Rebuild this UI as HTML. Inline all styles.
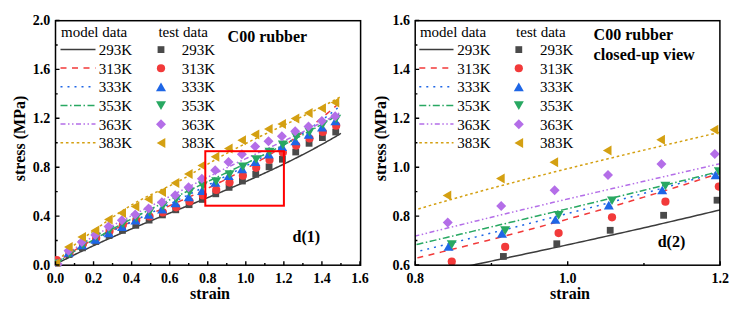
<!DOCTYPE html><html><head><meta charset="utf-8"><style>html,body{margin:0;padding:0;background:#fff;}svg{display:block;}text{font-family:"Liberation Serif",serif;}</style></head><body>
<svg width="742" height="315" viewBox="0 0 742 315">
<rect width="742" height="315" fill="#fff"/>
<defs><clipPath id="cl"><rect x="55.5" y="20.5" width="304.5" height="244.5"/></clipPath><clipPath id="c0"><rect x="55" y="240" width="30" height="26.5"/></clipPath><clipPath id="cr"><rect x="415.2" y="20.5" width="304.8" height="244.5"/></clipPath></defs>
<g clip-path="url(#cl)">
<polyline points="55.50,265.00 56.45,263.85 57.40,263.36 58.35,262.86 59.31,262.37 60.26,261.88 61.21,261.39 62.16,260.90 63.11,260.42 64.06,259.93 65.02,259.45 65.97,258.97 66.92,258.49 67.87,258.01 68.82,257.54 69.77,257.06 70.72,256.59 71.68,256.11 72.63,255.64 73.58,255.18 74.53,254.71 75.48,254.24 76.43,253.78 77.38,253.31 78.34,252.85 79.29,252.39 80.24,251.93 81.19,251.48 82.14,251.02 83.09,250.56 84.05,250.11 85.00,249.66 85.95,249.21 86.90,248.76 87.85,248.31 88.80,247.86 89.75,247.42 90.71,246.97 91.66,246.53 92.61,246.09 93.56,245.64 94.51,245.21 95.46,244.77 96.41,244.33 97.37,243.89 98.32,243.46 99.27,243.02 100.22,242.59 101.17,242.16 102.12,241.73 103.08,241.30 104.03,240.87 104.98,240.44 105.93,240.01 106.88,239.59 107.83,239.16 108.78,238.74 109.74,238.32 110.69,237.90 111.64,237.48 112.59,237.06 113.54,236.64 114.49,236.22 115.44,235.80 116.40,235.39 117.35,234.97 118.30,234.56 119.25,234.14 120.20,233.73 121.15,233.32 122.11,232.91 123.06,232.50 124.01,232.09 124.96,231.68 125.91,231.27 126.86,230.86 127.81,230.46 128.77,230.05 129.72,229.65 130.67,229.24 131.62,228.84 132.57,228.44 133.52,228.03 134.47,227.63 135.43,227.23 136.38,226.83 137.33,226.43 138.28,226.03 139.23,225.63 140.18,225.24 141.13,224.84 142.09,224.44 143.04,224.04 143.99,223.65 144.94,223.25 145.89,222.86 146.84,222.46 147.80,222.07 148.75,221.68 149.70,221.28 150.65,220.89 151.60,220.50 152.55,220.11 153.50,219.72 154.46,219.32 155.41,218.93 156.36,218.54 157.31,218.15 158.26,217.76 159.21,217.37 160.17,216.98 161.12,216.60 162.07,216.21 163.02,215.82 163.97,215.43 164.92,215.04 165.87,214.66 166.83,214.27 167.78,213.88 168.73,213.49 169.68,213.11 170.63,212.72 171.58,212.33 172.53,211.95 173.49,211.56 174.44,211.17 175.39,210.79 176.34,210.40 177.29,210.02 178.24,209.63 179.19,209.24 180.15,208.86 181.10,208.47 182.05,208.09 183.00,207.70 183.95,207.31 184.90,206.93 185.86,206.54 186.81,206.16 187.76,205.77 188.71,205.38 189.66,205.00 190.61,204.61 191.56,204.22 192.52,203.84 193.47,203.45 194.42,203.06 195.37,202.68 196.32,202.29 197.27,201.90 198.23,201.51 199.18,201.13 200.13,200.74 201.08,200.35 202.03,199.96 202.98,199.57 203.93,199.18 204.89,198.79 205.84,198.40 206.79,198.01 207.74,197.62 208.69,197.23 209.64,196.84 210.59,196.44 211.55,196.05 212.50,195.66 213.45,195.27 214.40,194.87 215.35,194.48 216.30,194.08 217.25,193.69 218.21,193.29 219.16,192.90 220.11,192.50 221.06,192.10 222.01,191.71 222.96,191.31 223.92,190.91 224.87,190.51 225.82,190.11 226.77,189.71 227.72,189.31 228.67,188.91 229.62,188.50 230.58,188.10 231.53,187.70 232.48,187.29 233.43,186.89 234.38,186.48 235.33,186.08 236.29,185.67 237.24,185.26 238.19,184.85 239.14,184.44 240.09,184.03 241.04,183.62 241.99,183.21 242.95,182.80 243.90,182.38 244.85,181.97 245.80,181.55 246.75,181.14 247.70,180.72 248.65,180.30 249.61,179.88 250.56,179.46 251.51,179.04 252.46,178.62 253.41,178.20 254.36,177.77 255.32,177.35 256.27,176.92 257.22,176.49 258.17,176.07 259.12,175.64 260.07,175.21 261.02,174.78 261.98,174.34 262.93,173.91 263.88,173.48 264.83,173.04 265.78,172.60 266.73,172.17 267.68,171.73 268.64,171.29 269.59,170.85 270.54,170.40 271.49,169.96 272.44,169.52 273.39,169.07 274.35,168.62 275.30,168.17 276.25,167.72 277.20,167.27 278.15,166.82 279.10,166.37 280.05,165.91 281.01,165.45 281.96,165.00 282.91,164.54 283.86,164.08 284.81,163.61 285.76,163.15 286.71,162.69 287.67,162.22 288.62,161.75 289.57,161.28 290.52,160.81 291.47,160.34 292.42,159.87 293.38,159.39 294.33,158.91 295.28,158.44 296.23,157.96 297.18,157.47 298.13,156.99 299.08,156.51 300.04,156.02 300.99,155.53 301.94,155.04 302.89,154.55 303.84,154.06 304.79,153.57 305.74,153.07 306.70,152.57 307.65,152.07 308.60,151.57 309.55,151.07 310.50,150.56 311.45,150.06 312.41,149.55 313.36,149.04 314.31,148.53 315.26,148.01 316.21,147.50 317.16,146.98 318.11,146.46 319.07,145.94 320.02,145.42 320.97,144.89 321.92,144.37 322.87,143.84 323.82,143.31 324.77,142.78 325.73,142.24 326.68,141.70 327.63,141.17 328.58,140.63 329.53,140.08 330.48,139.54 331.44,138.99 332.39,138.44 333.34,137.89 334.29,137.34 335.24,136.79 336.19,136.23 337.14,135.67 338.10,135.11 339.05,134.55 340.00,133.98 340.95,133.42" fill="none" stroke="#3c3c3c" stroke-width="1.5"/>
<polyline points="55.50,265.00 56.45,263.14 57.40,262.41 58.35,261.68 59.31,260.96 60.26,260.25 61.21,259.55 62.16,258.85 63.11,258.16 64.06,257.48 65.02,256.80 65.97,256.13 66.92,255.47 67.87,254.82 68.82,254.17 69.77,253.53 70.72,252.90 71.68,252.27 72.63,251.65 73.58,251.03 74.53,250.42 75.48,249.82 76.43,249.22 77.38,248.63 78.34,248.05 79.29,247.47 80.24,246.89 81.19,246.32 82.14,245.76 83.09,245.20 84.05,244.65 85.00,244.10 85.95,243.56 86.90,243.02 87.85,242.49 88.80,241.96 89.75,241.44 90.71,240.92 91.66,240.41 92.61,239.90 93.56,239.39 94.51,238.89 95.46,238.39 96.41,237.90 97.37,237.41 98.32,236.93 99.27,236.44 100.22,235.97 101.17,235.49 102.12,235.02 103.08,234.55 104.03,234.09 104.98,233.63 105.93,233.17 106.88,232.72 107.83,232.26 108.78,231.82 109.74,231.37 110.69,230.93 111.64,230.49 112.59,230.05 113.54,229.61 114.49,229.18 115.44,228.75 116.40,228.32 117.35,227.90 118.30,227.47 119.25,227.05 120.20,226.63 121.15,226.21 122.11,225.80 123.06,225.38 124.01,224.97 124.96,224.56 125.91,224.15 126.86,223.74 127.81,223.34 128.77,222.93 129.72,222.53 130.67,222.12 131.62,221.72 132.57,221.32 133.52,220.92 134.47,220.52 135.43,220.12 136.38,219.72 137.33,219.33 138.28,218.93 139.23,218.53 140.18,218.14 141.13,217.74 142.09,217.34 143.04,216.95 143.99,216.55 144.94,216.16 145.89,215.76 146.84,215.36 147.80,214.97 148.75,214.57 149.70,214.17 150.65,213.77 151.60,213.37 152.55,212.97 153.50,212.57 154.46,212.17 155.41,211.77 156.36,211.37 157.31,210.97 158.26,210.57 159.21,210.16 160.17,209.76 161.12,209.35 162.07,208.95 163.02,208.54 163.97,208.13 164.92,207.72 165.87,207.32 166.83,206.91 167.78,206.50 168.73,206.08 169.68,205.67 170.63,205.26 171.58,204.84 172.53,204.43 173.49,204.01 174.44,203.60 175.39,203.18 176.34,202.76 177.29,202.34 178.24,201.92 179.19,201.50 180.15,201.08 181.10,200.66 182.05,200.23 183.00,199.81 183.95,199.38 184.90,198.95 185.86,198.52 186.81,198.10 187.76,197.66 188.71,197.23 189.66,196.80 190.61,196.37 191.56,195.93 192.52,195.49 193.47,195.06 194.42,194.62 195.37,194.18 196.32,193.74 197.27,193.29 198.23,192.85 199.18,192.40 200.13,191.96 201.08,191.51 202.03,191.06 202.98,190.61 203.93,190.16 204.89,189.71 205.84,189.25 206.79,188.80 207.74,188.34 208.69,187.88 209.64,187.42 210.59,186.96 211.55,186.49 212.50,186.03 213.45,185.56 214.40,185.10 215.35,184.63 216.30,184.16 217.25,183.68 218.21,183.21 219.16,182.73 220.11,182.26 221.06,181.78 222.01,181.30 222.96,180.82 223.92,180.33 224.87,179.85 225.82,179.36 226.77,178.87 227.72,178.38 228.67,177.89 229.62,177.39 230.58,176.90 231.53,176.40 232.48,175.90 233.43,175.40 234.38,174.90 235.33,174.39 236.29,173.88 237.24,173.38 238.19,172.87 239.14,172.35 240.09,171.84 241.04,171.32 241.99,170.80 242.95,170.28 243.90,169.76 244.85,169.24 245.80,168.71 246.75,168.18 247.70,167.65 248.65,167.12 249.61,166.58 250.56,166.05 251.51,165.51 252.46,164.96 253.41,164.42 254.36,163.87 255.32,163.32 256.27,162.77 257.22,162.22 258.17,161.66 259.12,161.11 260.07,160.55 261.02,159.98 261.98,159.42 262.93,158.85 263.88,158.28 264.83,157.71 265.78,157.13 266.73,156.55 267.68,155.97 268.64,155.39 269.59,154.80 270.54,154.21 271.49,153.62 272.44,153.03 273.39,152.43 274.35,151.83 275.30,151.23 276.25,150.62 277.20,150.01 278.15,149.40 279.10,148.79 280.05,148.17 281.01,147.55 281.96,146.93 282.91,146.30 283.86,145.68 284.81,145.04 285.76,144.41 286.71,143.77 287.67,143.13 288.62,142.49 289.57,141.84 290.52,141.19 291.47,140.53 292.42,139.88 293.38,139.22 294.33,138.55 295.28,137.89 296.23,137.22 297.18,136.54 298.13,135.87 299.08,135.19 300.04,134.50 300.99,133.82 301.94,133.13 302.89,132.43 303.84,131.73 304.79,131.03 305.74,130.33 306.70,129.62 307.65,128.91 308.60,128.20 309.55,127.48 310.50,126.75 311.45,126.03 312.41,125.30 313.36,124.56 314.31,123.83 315.26,123.09 316.21,122.34 317.16,121.59 318.11,120.84 319.07,120.08 320.02,119.32 320.97,118.56 321.92,117.79 322.87,117.02 323.82,116.24 324.77,115.46 325.73,114.68 326.68,113.89 327.63,113.10 328.58,112.30 329.53,111.50 330.48,110.70 331.44,109.89 332.39,109.08 333.34,108.26 334.29,107.44 335.24,106.61 336.19,105.78 337.14,104.95 338.10,104.11 339.05,103.27 340.00,102.42 340.95,101.57" fill="none" stroke="#f23a3a" stroke-width="1.5" stroke-dasharray="6 5.5"/>
<polyline points="55.50,265.00 56.45,262.95 57.40,262.28 58.35,261.62 59.31,260.96 60.26,260.32 61.21,259.67 62.16,259.03 63.11,258.40 64.06,257.77 65.02,257.15 65.97,256.54 66.92,255.92 67.87,255.32 68.82,254.71 69.77,254.12 70.72,253.53 71.68,252.94 72.63,252.35 73.58,251.78 74.53,251.20 75.48,250.63 76.43,250.07 77.38,249.50 78.34,248.95 79.29,248.39 80.24,247.84 81.19,247.30 82.14,246.76 83.09,246.22 84.05,245.68 85.00,245.15 85.95,244.62 86.90,244.10 87.85,243.58 88.80,243.06 89.75,242.54 90.71,242.03 91.66,241.52 92.61,241.02 93.56,240.51 94.51,240.01 95.46,239.51 96.41,239.02 97.37,238.52 98.32,238.03 99.27,237.54 100.22,237.06 101.17,236.57 102.12,236.09 103.08,235.61 104.03,235.13 104.98,234.65 105.93,234.18 106.88,233.71 107.83,233.23 108.78,232.77 109.74,232.30 110.69,231.83 111.64,231.37 112.59,230.91 113.54,230.44 114.49,229.98 115.44,229.53 116.40,229.07 117.35,228.61 118.30,228.16 119.25,227.70 120.20,227.25 121.15,226.80 122.11,226.35 123.06,225.90 124.01,225.45 124.96,225.00 125.91,224.56 126.86,224.11 127.81,223.66 128.77,223.22 129.72,222.77 130.67,222.33 131.62,221.89 132.57,221.44 133.52,221.00 134.47,220.56 135.43,220.11 136.38,219.67 137.33,219.23 138.28,218.78 139.23,218.34 140.18,217.90 141.13,217.46 142.09,217.01 143.04,216.57 143.99,216.13 144.94,215.68 145.89,215.24 146.84,214.79 147.80,214.35 148.75,213.90 149.70,213.46 150.65,213.01 151.60,212.56 152.55,212.11 153.50,211.67 154.46,211.22 155.41,210.77 156.36,210.31 157.31,209.86 158.26,209.41 159.21,208.96 160.17,208.50 161.12,208.05 162.07,207.60 163.02,207.14 163.97,206.69 164.92,206.23 165.87,205.77 166.83,205.32 167.78,204.86 168.73,204.40 169.68,203.94 170.63,203.48 171.58,203.02 172.53,202.56 173.49,202.10 174.44,201.64 175.39,201.18 176.34,200.72 177.29,200.25 178.24,199.79 179.19,199.33 180.15,198.86 181.10,198.40 182.05,197.93 183.00,197.47 183.95,197.00 184.90,196.53 185.86,196.07 186.81,195.60 187.76,195.13 188.71,194.66 189.66,194.19 190.61,193.72 191.56,193.26 192.52,192.79 193.47,192.32 194.42,191.84 195.37,191.37 196.32,190.90 197.27,190.43 198.23,189.96 199.18,189.49 200.13,189.01 201.08,188.54 202.03,188.07 202.98,187.59 203.93,187.12 204.89,186.64 205.84,186.17 206.79,185.70 207.74,185.22 208.69,184.74 209.64,184.27 210.59,183.79 211.55,183.32 212.50,182.84 213.45,182.36 214.40,181.88 215.35,181.41 216.30,180.93 217.25,180.45 218.21,179.97 219.16,179.50 220.11,179.02 221.06,178.54 222.01,178.06 222.96,177.58 223.92,177.10 224.87,176.62 225.82,176.14 226.77,175.66 227.72,175.18 228.67,174.70 229.62,174.22 230.58,173.74 231.53,173.25 232.48,172.77 233.43,172.29 234.38,171.80 235.33,171.32 236.29,170.84 237.24,170.35 238.19,169.86 239.14,169.38 240.09,168.89 241.04,168.40 241.99,167.91 242.95,167.42 243.90,166.93 244.85,166.44 245.80,165.94 246.75,165.45 247.70,164.96 248.65,164.46 249.61,163.96 250.56,163.46 251.51,162.96 252.46,162.46 253.41,161.96 254.36,161.46 255.32,160.95 256.27,160.44 257.22,159.94 258.17,159.43 259.12,158.92 260.07,158.40 261.02,157.89 261.98,157.37 262.93,156.86 263.88,156.34 264.83,155.82 265.78,155.30 266.73,154.77 267.68,154.25 268.64,153.72 269.59,153.19 270.54,152.66 271.49,152.12 272.44,151.59 273.39,151.05 274.35,150.51 275.30,149.97 276.25,149.42 277.20,148.88 278.15,148.33 279.10,147.78 280.05,147.23 281.01,146.67 281.96,146.11 282.91,145.55 283.86,144.99 284.81,144.42 285.76,143.86 286.71,143.29 287.67,142.71 288.62,142.14 289.57,141.56 290.52,140.98 291.47,140.40 292.42,139.81 293.38,139.22 294.33,138.63 295.28,138.03 296.23,137.44 297.18,136.84 298.13,136.23 299.08,135.63 300.04,135.02 300.99,134.40 301.94,133.79 302.89,133.17 303.84,132.54 304.79,131.92 305.74,131.29 306.70,130.66 307.65,130.02 308.60,129.38 309.55,128.74 310.50,128.10 311.45,127.45 312.41,126.79 313.36,126.14 314.31,125.48 315.26,124.81 316.21,124.15 317.16,123.47 318.11,122.80 319.07,122.12 320.02,121.44 320.97,120.75 321.92,120.06 322.87,119.37 323.82,118.67 324.77,117.97 325.73,117.26 326.68,116.55 327.63,115.84 328.58,115.12 329.53,114.39 330.48,113.67 331.44,112.94 332.39,112.20 333.34,111.46 334.29,110.72 335.24,109.97 336.19,109.22 337.14,108.46 338.10,107.70 339.05,106.93 340.00,106.16 340.95,105.38" fill="none" stroke="#1e66e6" stroke-width="1.5" stroke-dasharray="2 5"/>
<polyline points="55.50,265.00 56.45,263.35 57.40,262.69 58.35,262.04 59.31,261.39 60.26,260.74 61.21,260.09 62.16,259.45 63.11,258.81 64.06,258.18 65.02,257.54 65.97,256.91 66.92,256.29 67.87,255.66 68.82,255.04 69.77,254.42 70.72,253.80 71.68,253.19 72.63,252.58 73.58,251.97 74.53,251.36 75.48,250.76 76.43,250.16 77.38,249.56 78.34,248.97 79.29,248.37 80.24,247.78 81.19,247.19 82.14,246.61 83.09,246.03 84.05,245.44 85.00,244.87 85.95,244.29 86.90,243.72 87.85,243.14 88.80,242.57 89.75,242.01 90.71,241.44 91.66,240.88 92.61,240.32 93.56,239.76 94.51,239.20 95.46,238.65 96.41,238.09 97.37,237.54 98.32,236.99 99.27,236.45 100.22,235.90 101.17,235.36 102.12,234.82 103.08,234.28 104.03,233.74 104.98,233.21 105.93,232.67 106.88,232.14 107.83,231.61 108.78,231.08 109.74,230.56 110.69,230.03 111.64,229.51 112.59,228.98 113.54,228.46 114.49,227.95 115.44,227.43 116.40,226.91 117.35,226.40 118.30,225.89 119.25,225.38 120.20,224.87 121.15,224.36 122.11,223.85 123.06,223.35 124.01,222.84 124.96,222.34 125.91,221.84 126.86,221.34 127.81,220.84 128.77,220.34 129.72,219.84 130.67,219.35 131.62,218.85 132.57,218.36 133.52,217.87 134.47,217.38 135.43,216.89 136.38,216.40 137.33,215.91 138.28,215.43 139.23,214.94 140.18,214.46 141.13,213.97 142.09,213.49 143.04,213.01 143.99,212.53 144.94,212.05 145.89,211.57 146.84,211.09 147.80,210.61 148.75,210.14 149.70,209.66 150.65,209.19 151.60,208.71 152.55,208.24 153.50,207.76 154.46,207.29 155.41,206.82 156.36,206.35 157.31,205.88 158.26,205.41 159.21,204.94 160.17,204.47 161.12,204.00 162.07,203.53 163.02,203.07 163.97,202.60 164.92,202.13 165.87,201.67 166.83,201.21 167.78,200.74 168.73,200.28 169.68,199.81 170.63,199.35 171.58,198.89 172.53,198.43 173.49,197.97 174.44,197.51 175.39,197.05 176.34,196.59 177.29,196.13 178.24,195.67 179.19,195.21 180.15,194.75 181.10,194.29 182.05,193.84 183.00,193.38 183.95,192.92 184.90,192.47 185.86,192.01 186.81,191.56 187.76,191.10 188.71,190.65 189.66,190.19 190.61,189.74 191.56,189.28 192.52,188.83 193.47,188.37 194.42,187.92 195.37,187.47 196.32,187.02 197.27,186.56 198.23,186.11 199.18,185.66 200.13,185.21 201.08,184.75 202.03,184.30 202.98,183.85 203.93,183.40 204.89,182.95 205.84,182.50 206.79,182.05 207.74,181.59 208.69,181.14 209.64,180.69 210.59,180.24 211.55,179.79 212.50,179.34 213.45,178.89 214.40,178.44 215.35,177.99 216.30,177.54 217.25,177.09 218.21,176.64 219.16,176.19 220.11,175.74 221.06,175.29 222.01,174.83 222.96,174.38 223.92,173.93 224.87,173.48 225.82,173.03 226.77,172.58 227.72,172.13 228.67,171.68 229.62,171.22 230.58,170.77 231.53,170.32 232.48,169.87 233.43,169.42 234.38,168.96 235.33,168.51 236.29,168.06 237.24,167.61 238.19,167.15 239.14,166.70 240.09,166.24 241.04,165.79 241.99,165.34 242.95,164.88 243.90,164.43 244.85,163.97 245.80,163.51 246.75,163.06 247.70,162.60 248.65,162.14 249.61,161.69 250.56,161.23 251.51,160.77 252.46,160.31 253.41,159.85 254.36,159.39 255.32,158.93 256.27,158.47 257.22,158.01 258.17,157.54 259.12,157.08 260.07,156.62 261.02,156.15 261.98,155.69 262.93,155.22 263.88,154.75 264.83,154.29 265.78,153.82 266.73,153.35 267.68,152.88 268.64,152.41 269.59,151.94 270.54,151.47 271.49,151.00 272.44,150.52 273.39,150.05 274.35,149.57 275.30,149.10 276.25,148.62 277.20,148.14 278.15,147.66 279.10,147.18 280.05,146.70 281.01,146.22 281.96,145.74 282.91,145.25 283.86,144.77 284.81,144.28 285.76,143.79 286.71,143.30 287.67,142.81 288.62,142.32 289.57,141.83 290.52,141.34 291.47,140.84 292.42,140.35 293.38,139.85 294.33,139.35 295.28,138.85 296.23,138.35 297.18,137.85 298.13,137.35 299.08,136.84 300.04,136.34 300.99,135.83 301.94,135.32 302.89,134.81 303.84,134.30 304.79,133.79 305.74,133.27 306.70,132.75 307.65,132.24 308.60,131.72 309.55,131.20 310.50,130.68 311.45,130.15 312.41,129.63 313.36,129.10 314.31,128.57 315.26,128.04 316.21,127.51 317.16,126.98 318.11,126.44 319.07,125.90 320.02,125.37 320.97,124.83 321.92,124.28 322.87,123.74 323.82,123.19 324.77,122.65 325.73,122.10 326.68,121.55 327.63,120.99 328.58,120.44 329.53,119.88 330.48,119.32 331.44,118.76 332.39,118.20 333.34,117.64 334.29,117.07 335.24,116.50 336.19,115.93 337.14,115.36 338.10,114.78 339.05,114.21 340.00,113.63 340.95,113.05" fill="none" stroke="#28a862" stroke-width="1.5" stroke-dasharray="7 2.5 1.5 2.5"/>
<polyline points="55.50,265.00 56.45,262.81 57.40,262.01 58.35,261.21 59.31,260.42 60.26,259.64 61.21,258.86 62.16,258.10 63.11,257.34 64.06,256.58 65.02,255.84 65.97,255.10 66.92,254.37 67.87,253.65 68.82,252.93 69.77,252.22 70.72,251.52 71.68,250.82 72.63,250.13 73.58,249.45 74.53,248.77 75.48,248.10 76.43,247.43 77.38,246.77 78.34,246.12 79.29,245.47 80.24,244.83 81.19,244.19 82.14,243.56 83.09,242.93 84.05,242.31 85.00,241.69 85.95,241.08 86.90,240.47 87.85,239.87 88.80,239.27 89.75,238.68 90.71,238.09 91.66,237.51 92.61,236.93 93.56,236.35 94.51,235.78 95.46,235.21 96.41,234.65 97.37,234.08 98.32,233.53 99.27,232.97 100.22,232.42 101.17,231.87 102.12,231.33 103.08,230.79 104.03,230.25 104.98,229.72 105.93,229.18 106.88,228.65 107.83,228.13 108.78,227.60 109.74,227.08 110.69,226.56 111.64,226.05 112.59,225.54 113.54,225.02 114.49,224.52 115.44,224.01 116.40,223.50 117.35,223.00 118.30,222.50 119.25,222.00 120.20,221.51 121.15,221.01 122.11,220.52 123.06,220.03 124.01,219.54 124.96,219.05 125.91,218.56 126.86,218.08 127.81,217.59 128.77,217.11 129.72,216.62 130.67,216.14 131.62,215.66 132.57,215.18 133.52,214.70 134.47,214.23 135.43,213.75 136.38,213.27 137.33,212.80 138.28,212.32 139.23,211.84 140.18,211.37 141.13,210.89 142.09,210.42 143.04,209.94 143.99,209.47 144.94,208.99 145.89,208.52 146.84,208.04 147.80,207.57 148.75,207.09 149.70,206.61 150.65,206.14 151.60,205.66 152.55,205.18 153.50,204.70 154.46,204.22 155.41,203.74 156.36,203.26 157.31,202.78 158.26,202.30 159.21,201.82 160.17,201.34 161.12,200.86 162.07,200.37 163.02,199.89 163.97,199.41 164.92,198.93 165.87,198.44 166.83,197.96 167.78,197.48 168.73,196.99 169.68,196.51 170.63,196.03 171.58,195.54 172.53,195.06 173.49,194.57 174.44,194.09 175.39,193.60 176.34,193.12 177.29,192.63 178.24,192.15 179.19,191.67 180.15,191.18 181.10,190.70 182.05,190.21 183.00,189.73 183.95,189.24 184.90,188.76 185.86,188.27 186.81,187.79 187.76,187.31 188.71,186.82 189.66,186.34 190.61,185.85 191.56,185.37 192.52,184.89 193.47,184.40 194.42,183.92 195.37,183.44 196.32,182.96 197.27,182.47 198.23,181.99 199.18,181.51 200.13,181.03 201.08,180.55 202.03,180.07 202.98,179.59 203.93,179.11 204.89,178.63 205.84,178.15 206.79,177.67 207.74,177.20 208.69,176.72 209.64,176.24 210.59,175.77 211.55,175.29 212.50,174.82 213.45,174.34 214.40,173.87 215.35,173.39 216.30,172.92 217.25,172.45 218.21,171.98 219.16,171.51 220.11,171.04 221.06,170.57 222.01,170.10 222.96,169.63 223.92,169.16 224.87,168.70 225.82,168.23 226.77,167.77 227.72,167.30 228.67,166.84 229.62,166.38 230.58,165.91 231.53,165.45 232.48,164.99 233.43,164.53 234.38,164.08 235.33,163.62 236.29,163.16 237.24,162.71 238.19,162.25 239.14,161.80 240.09,161.35 241.04,160.90 241.99,160.44 242.95,159.99 243.90,159.55 244.85,159.10 245.80,158.65 246.75,158.20 247.70,157.75 248.65,157.31 249.61,156.86 250.56,156.42 251.51,155.97 252.46,155.53 253.41,155.09 254.36,154.64 255.32,154.20 256.27,153.76 257.22,153.32 258.17,152.87 259.12,152.43 260.07,151.99 261.02,151.55 261.98,151.11 262.93,150.67 263.88,150.23 264.83,149.79 265.78,149.35 266.73,148.91 267.68,148.47 268.64,148.03 269.59,147.59 270.54,147.14 271.49,146.70 272.44,146.26 273.39,145.82 274.35,145.38 275.30,144.94 276.25,144.50 277.20,144.05 278.15,143.61 279.10,143.17 280.05,142.73 281.01,142.28 281.96,141.84 282.91,141.39 283.86,140.95 284.81,140.50 285.76,140.06 286.71,139.61 287.67,139.16 288.62,138.71 289.57,138.26 290.52,137.81 291.47,137.36 292.42,136.91 293.38,136.46 294.33,136.01 295.28,135.55 296.23,135.10 297.18,134.64 298.13,134.18 299.08,133.73 300.04,133.27 300.99,132.81 301.94,132.35 302.89,131.88 303.84,131.42 304.79,130.96 305.74,130.49 306.70,130.02 307.65,129.56 308.60,129.09 309.55,128.61 310.50,128.14 311.45,127.67 312.41,127.19 313.36,126.72 314.31,126.24 315.26,125.76 316.21,125.28 317.16,124.79 318.11,124.31 319.07,123.82 320.02,123.33 320.97,122.85 321.92,122.35 322.87,121.86 323.82,121.37 324.77,120.87 325.73,120.37 326.68,119.87 327.63,119.37 328.58,118.86 329.53,118.36 330.48,117.85 331.44,117.34 332.39,116.82 333.34,116.31 334.29,115.79 335.24,115.27 336.19,114.75 337.14,114.23 338.10,113.70 339.05,113.17 340.00,112.64 340.95,112.11" fill="none" stroke="#b46ee8" stroke-width="1.5" stroke-dasharray="5 2.5 1.5 2.5 1.5 2.5"/>
<polyline points="55.50,265.00 56.45,263.19 57.40,261.99 58.35,260.82 59.31,259.69 60.26,258.58 61.21,257.51 62.16,256.45 63.11,255.43 64.06,254.43 65.02,253.46 65.97,252.50 66.92,251.57 67.87,250.67 68.82,249.78 69.77,248.91 70.72,248.06 71.68,247.23 72.63,246.42 73.58,245.62 74.53,244.83 75.48,244.06 76.43,243.30 77.38,242.55 78.34,241.82 79.29,241.09 80.24,240.37 81.19,239.66 82.14,238.96 83.09,238.27 84.05,237.57 85.00,236.89 85.95,236.20 86.90,235.52 87.85,234.84 88.80,234.16 89.75,233.48 90.71,232.79 91.66,232.11 92.61,231.43 93.56,230.75 94.51,230.06 95.46,229.38 96.41,228.70 97.37,228.02 98.32,227.34 99.27,226.66 100.22,225.98 101.17,225.30 102.12,224.62 103.08,223.95 104.03,223.27 104.98,222.60 105.93,221.93 106.88,221.26 107.83,220.59 108.78,219.93 109.74,219.27 110.69,218.61 111.64,217.95 112.59,217.30 113.54,216.64 114.49,216.00 115.44,215.35 116.40,214.71 117.35,214.07 118.30,213.43 119.25,212.80 120.20,212.17 121.15,211.55 122.11,210.93 123.06,210.31 124.01,209.70 124.96,209.10 125.91,208.49 126.86,207.90 127.81,207.30 128.77,206.72 129.72,206.13 130.67,205.56 131.62,204.98 132.57,204.42 133.52,203.86 134.47,203.30 135.43,202.75 136.38,202.21 137.33,201.68 138.28,201.15 139.23,200.62 140.18,200.11 141.13,199.60 142.09,199.09 143.04,198.60 143.99,198.10 144.94,197.62 145.89,197.14 146.84,196.66 147.80,196.19 148.75,195.72 149.70,195.26 150.65,194.80 151.60,194.34 152.55,193.89 153.50,193.43 154.46,192.98 155.41,192.54 156.36,192.09 157.31,191.65 158.26,191.20 159.21,190.76 160.17,190.31 161.12,189.87 162.07,189.43 163.02,188.98 163.97,188.54 164.92,188.09 165.87,187.64 166.83,187.19 167.78,186.74 168.73,186.28 169.68,185.83 170.63,185.36 171.58,184.90 172.53,184.43 173.49,183.96 174.44,183.48 175.39,183.00 176.34,182.51 177.29,182.01 178.24,181.51 179.19,181.01 180.15,180.50 181.10,179.98 182.05,179.45 183.00,178.92 183.95,178.38 184.90,177.84 185.86,177.29 186.81,176.74 187.76,176.18 188.71,175.62 189.66,175.06 190.61,174.49 191.56,173.92 192.52,173.35 193.47,172.77 194.42,172.19 195.37,171.61 196.32,171.03 197.27,170.45 198.23,169.87 199.18,169.29 200.13,168.71 201.08,168.12 202.03,167.54 202.98,166.96 203.93,166.38 204.89,165.81 205.84,165.23 206.79,164.66 207.74,164.09 208.69,163.52 209.64,162.96 210.59,162.40 211.55,161.84 212.50,161.29 213.45,160.74 214.40,160.19 215.35,159.64 216.30,159.10 217.25,158.56 218.21,158.02 219.16,157.49 220.11,156.96 221.06,156.43 222.01,155.90 222.96,155.38 223.92,154.86 224.87,154.34 225.82,153.82 226.77,153.31 227.72,152.79 228.67,152.28 229.62,151.78 230.58,151.27 231.53,150.77 232.48,150.27 233.43,149.77 234.38,149.27 235.33,148.78 236.29,148.29 237.24,147.80 238.19,147.31 239.14,146.82 240.09,146.33 241.04,145.85 241.99,145.37 242.95,144.89 243.90,144.41 244.85,143.93 245.80,143.46 246.75,142.98 247.70,142.51 248.65,142.04 249.61,141.57 250.56,141.10 251.51,140.64 252.46,140.17 253.41,139.71 254.36,139.24 255.32,138.78 256.27,138.32 257.22,137.86 258.17,137.40 259.12,136.94 260.07,136.48 261.02,136.03 261.98,135.57 262.93,135.12 263.88,134.66 264.83,134.21 265.78,133.76 266.73,133.31 267.68,132.85 268.64,132.40 269.59,131.95 270.54,131.50 271.49,131.05 272.44,130.61 273.39,130.16 274.35,129.71 275.30,129.26 276.25,128.81 277.20,128.36 278.15,127.92 279.10,127.47 280.05,127.02 281.01,126.57 281.96,126.13 282.91,125.68 283.86,125.23 284.81,124.78 285.76,124.34 286.71,123.89 287.67,123.44 288.62,122.99 289.57,122.54 290.52,122.09 291.47,121.64 292.42,121.19 293.38,120.74 294.33,120.29 295.28,119.83 296.23,119.38 297.18,118.93 298.13,118.47 299.08,118.02 300.04,117.56 300.99,117.10 301.94,116.65 302.89,116.19 303.84,115.73 304.79,115.27 305.74,114.80 306.70,114.34 307.65,113.88 308.60,113.41 309.55,112.94 310.50,112.48 311.45,112.01 312.41,111.54 313.36,111.06 314.31,110.59 315.26,110.11 316.21,109.64 317.16,109.16 318.11,108.68 319.07,108.20 320.02,107.71 320.97,107.23 321.92,106.74 322.87,106.25 323.82,105.76 324.77,105.27 325.73,104.78 326.68,104.28 327.63,103.78 328.58,103.28 329.53,102.78 330.48,102.27 331.44,101.77 332.39,101.26 333.34,100.75 334.29,100.23 335.24,99.72 336.19,99.20 337.14,98.68 338.10,98.15 339.05,97.63 340.00,97.10 340.95,96.57" fill="none" stroke="#d4a012" stroke-width="1.5" stroke-dasharray="2.6 2.8"/>
<rect x="65.72" y="251.10" width="6.80" height="6.80" fill="#4a4a4a"/>
<rect x="79.05" y="244.40" width="6.80" height="6.80" fill="#4a4a4a"/>
<rect x="92.38" y="238.10" width="6.80" height="6.80" fill="#4a4a4a"/>
<rect x="105.71" y="232.10" width="6.80" height="6.80" fill="#4a4a4a"/>
<rect x="119.04" y="227.00" width="6.80" height="6.80" fill="#4a4a4a"/>
<rect x="132.37" y="221.90" width="6.80" height="6.80" fill="#4a4a4a"/>
<rect x="145.70" y="216.70" width="6.80" height="6.80" fill="#4a4a4a"/>
<rect x="159.03" y="211.50" width="6.80" height="6.80" fill="#4a4a4a"/>
<rect x="172.36" y="206.40" width="6.80" height="6.80" fill="#4a4a4a"/>
<rect x="185.69" y="201.27" width="6.80" height="6.80" fill="#4a4a4a"/>
<rect x="199.02" y="196.00" width="6.80" height="6.80" fill="#4a4a4a"/>
<rect x="212.35" y="190.40" width="6.80" height="6.80" fill="#4a4a4a"/>
<rect x="225.68" y="183.97" width="6.80" height="6.80" fill="#4a4a4a"/>
<rect x="239.01" y="177.62" width="6.80" height="6.80" fill="#4a4a4a"/>
<rect x="252.34" y="170.90" width="6.80" height="6.80" fill="#4a4a4a"/>
<rect x="265.67" y="163.40" width="6.80" height="6.80" fill="#4a4a4a"/>
<rect x="279.00" y="155.85" width="6.80" height="6.80" fill="#4a4a4a"/>
<rect x="292.33" y="148.60" width="6.80" height="6.80" fill="#4a4a4a"/>
<rect x="305.67" y="139.90" width="6.80" height="6.80" fill="#4a4a4a"/>
<rect x="319.00" y="134.20" width="6.80" height="6.80" fill="#4a4a4a"/>
<rect x="332.33" y="128.60" width="6.80" height="6.80" fill="#4a4a4a"/>
<circle cx="69.57" cy="252.70" r="4.10" fill="#f23a3a"/>
<circle cx="82.90" cy="243.90" r="4.10" fill="#f23a3a"/>
<circle cx="96.23" cy="238.00" r="4.10" fill="#f23a3a"/>
<circle cx="109.56" cy="231.05" r="4.10" fill="#f23a3a"/>
<circle cx="122.89" cy="224.70" r="4.10" fill="#f23a3a"/>
<circle cx="136.22" cy="220.50" r="4.10" fill="#f23a3a"/>
<circle cx="149.55" cy="216.50" r="4.10" fill="#f23a3a"/>
<circle cx="162.88" cy="212.40" r="4.10" fill="#f23a3a"/>
<circle cx="176.21" cy="207.30" r="4.10" fill="#f23a3a"/>
<circle cx="189.54" cy="201.40" r="4.10" fill="#f23a3a"/>
<circle cx="202.87" cy="195.40" r="4.10" fill="#f23a3a"/>
<circle cx="216.20" cy="189.95" r="4.10" fill="#f23a3a"/>
<circle cx="229.53" cy="182.60" r="4.10" fill="#f23a3a"/>
<circle cx="242.86" cy="175.68" r="4.10" fill="#f23a3a"/>
<circle cx="256.19" cy="167.80" r="4.10" fill="#f23a3a"/>
<circle cx="269.52" cy="160.00" r="4.10" fill="#f23a3a"/>
<circle cx="282.85" cy="152.45" r="4.10" fill="#f23a3a"/>
<circle cx="296.18" cy="145.60" r="4.10" fill="#f23a3a"/>
<circle cx="309.51" cy="138.50" r="4.10" fill="#f23a3a"/>
<circle cx="322.84" cy="132.00" r="4.10" fill="#f23a3a"/>
<circle cx="336.18" cy="125.70" r="4.10" fill="#f23a3a"/>
<path d="M68.77 248.20L73.77 256.80L63.77 256.80Z" fill="#1e66e6"/>
<path d="M82.10 240.70L87.10 249.30L77.10 249.30Z" fill="#1e66e6"/>
<path d="M95.43 235.10L100.43 243.70L90.43 243.70Z" fill="#1e66e6"/>
<path d="M108.76 228.60L113.76 237.20L103.76 237.20Z" fill="#1e66e6"/>
<path d="M122.09 222.30L127.09 230.90L117.09 230.90Z" fill="#1e66e6"/>
<path d="M135.42 215.90L140.42 224.50L130.42 224.50Z" fill="#1e66e6"/>
<path d="M148.75 210.20L153.75 218.80L143.75 218.80Z" fill="#1e66e6"/>
<path d="M162.08 204.90L167.08 213.50L157.08 213.50Z" fill="#1e66e6"/>
<path d="M175.41 198.60L180.41 207.20L170.41 207.20Z" fill="#1e66e6"/>
<path d="M188.74 192.68L193.74 201.28L183.74 201.28Z" fill="#1e66e6"/>
<path d="M202.07 186.30L207.07 194.90L197.07 194.90Z" fill="#1e66e6"/>
<path d="M215.40 178.10L220.40 186.70L210.40 186.70Z" fill="#1e66e6"/>
<path d="M228.73 171.52L233.73 180.12L223.73 180.12Z" fill="#1e66e6"/>
<path d="M242.06 164.57L247.06 173.18L237.06 173.18Z" fill="#1e66e6"/>
<path d="M255.39 157.40L260.39 166.00L250.39 166.00Z" fill="#1e66e6"/>
<path d="M268.72 149.85L273.72 158.45L263.72 158.45Z" fill="#1e66e6"/>
<path d="M282.05 142.35L287.05 150.95L277.05 150.95Z" fill="#1e66e6"/>
<path d="M295.39 136.60L300.39 145.20L290.39 145.20Z" fill="#1e66e6"/>
<path d="M308.72 130.20L313.72 138.80L303.72 138.80Z" fill="#1e66e6"/>
<path d="M322.05 123.00L327.05 131.60L317.05 131.60Z" fill="#1e66e6"/>
<path d="M335.38 116.70L340.38 125.30L330.38 125.30Z" fill="#1e66e6"/>
<path d="M64.57 249.76L74.57 249.76L69.57 258.36Z" fill="#28a862"/>
<path d="M77.90 240.40L87.90 240.40L82.90 249.00Z" fill="#28a862"/>
<path d="M91.23 232.73L101.23 232.73L96.23 241.33Z" fill="#28a862"/>
<path d="M104.56 225.95L114.56 225.95L109.56 234.55Z" fill="#28a862"/>
<path d="M117.89 219.58L127.89 219.58L122.89 228.18Z" fill="#28a862"/>
<path d="M131.22 213.55L141.22 213.55L136.22 222.15Z" fill="#28a862"/>
<path d="M144.55 207.78L154.55 207.78L149.55 216.38Z" fill="#28a862"/>
<path d="M157.88 201.90L167.88 201.90L162.88 210.50Z" fill="#28a862"/>
<path d="M171.21 195.02L181.21 195.02L176.21 203.62Z" fill="#28a862"/>
<path d="M184.54 187.79L194.54 187.79L189.54 196.39Z" fill="#28a862"/>
<path d="M197.87 181.60L207.87 181.60L202.87 190.20Z" fill="#28a862"/>
<path d="M211.20 177.15L221.20 177.15L216.20 185.75Z" fill="#28a862"/>
<path d="M224.53 170.18L234.53 170.18L229.53 178.78Z" fill="#28a862"/>
<path d="M237.86 162.52L247.86 162.52L242.86 171.12Z" fill="#28a862"/>
<path d="M251.19 155.25L261.19 155.25L256.19 163.85Z" fill="#28a862"/>
<path d="M264.52 147.85L274.52 147.85L269.52 156.45Z" fill="#28a862"/>
<path d="M277.85 140.60L287.85 140.60L282.85 149.20Z" fill="#28a862"/>
<path d="M291.18 132.60L301.18 132.60L296.18 141.20Z" fill="#28a862"/>
<path d="M304.51 127.80L314.51 127.80L309.51 136.40Z" fill="#28a862"/>
<path d="M317.84 120.20L327.84 120.20L322.84 128.80Z" fill="#28a862"/>
<path d="M331.18 114.70L341.18 114.70L336.18 123.30Z" fill="#28a862"/>
<path d="M68.57 245.80L73.57 250.80L68.57 255.80L63.57 250.80Z" fill="#b46ee8"/>
<path d="M81.90 237.00L86.90 242.00L81.90 247.00L76.90 242.00Z" fill="#b46ee8"/>
<path d="M95.23 230.00L100.23 235.00L95.23 240.00L90.23 235.00Z" fill="#b46ee8"/>
<path d="M108.56 221.60L113.56 226.60L108.56 231.60L103.56 226.60Z" fill="#b46ee8"/>
<path d="M121.89 215.20L126.89 220.20L121.89 225.20L116.89 220.20Z" fill="#b46ee8"/>
<path d="M135.22 209.50L140.22 214.50L135.22 219.50L130.22 214.50Z" fill="#b46ee8"/>
<path d="M148.55 203.50L153.55 208.50L148.55 213.50L143.55 208.50Z" fill="#b46ee8"/>
<path d="M161.88 197.20L166.88 202.20L161.88 207.20L156.88 202.20Z" fill="#b46ee8"/>
<path d="M175.21 190.20L180.21 195.20L175.21 200.20L170.21 195.20Z" fill="#b46ee8"/>
<path d="M188.54 182.15L193.54 187.15L188.54 192.15L183.54 187.15Z" fill="#b46ee8"/>
<path d="M201.87 173.70L206.87 178.70L201.87 183.70L196.87 178.70Z" fill="#b46ee8"/>
<path d="M215.20 165.35L220.20 170.35L215.20 175.35L210.20 170.35Z" fill="#b46ee8"/>
<path d="M228.53 157.12L233.53 162.12L228.53 167.12L223.53 162.12Z" fill="#b46ee8"/>
<path d="M241.86 149.30L246.86 154.30L241.86 159.30L236.86 154.30Z" fill="#b46ee8"/>
<path d="M255.19 141.60L260.19 146.60L255.19 151.60L250.19 146.60Z" fill="#b46ee8"/>
<path d="M268.52 136.15L273.52 141.15L268.52 146.15L263.52 141.15Z" fill="#b46ee8"/>
<path d="M281.86 131.20L286.86 136.20L281.86 141.20L276.86 136.20Z" fill="#b46ee8"/>
<path d="M295.19 126.30L300.19 131.30L295.19 136.30L290.19 131.30Z" fill="#b46ee8"/>
<path d="M308.52 121.60L313.52 126.60L308.52 131.60L303.52 126.60Z" fill="#b46ee8"/>
<path d="M321.85 116.00L326.85 121.00L321.85 126.00L316.85 121.00Z" fill="#b46ee8"/>
<path d="M335.18 111.20L340.18 116.20L335.18 121.20L330.18 116.20Z" fill="#b46ee8"/>
<path d="M64.07 247.00L72.67 242.00L72.67 252.00Z" fill="#d4a012"/>
<path d="M77.40 236.90L86.00 231.90L86.00 241.90Z" fill="#d4a012"/>
<path d="M90.73 230.50L99.33 225.50L99.33 235.50Z" fill="#d4a012"/>
<path d="M104.06 219.50L112.66 214.50L112.66 224.50Z" fill="#d4a012"/>
<path d="M117.39 213.10L125.99 208.10L125.99 218.10Z" fill="#d4a012"/>
<path d="M130.72 206.50L139.32 201.50L139.32 211.50Z" fill="#d4a012"/>
<path d="M144.05 199.20L152.65 194.20L152.65 204.20Z" fill="#d4a012"/>
<path d="M157.38 192.10L165.98 187.10L165.98 197.10Z" fill="#d4a012"/>
<path d="M170.71 183.00L179.31 178.00L179.31 188.00Z" fill="#d4a012"/>
<path d="M184.04 174.10L192.64 169.10L192.64 179.10Z" fill="#d4a012"/>
<path d="M197.37 165.41L205.97 160.41L205.97 170.41Z" fill="#d4a012"/>
<path d="M210.70 156.85L219.30 151.85L219.30 161.85Z" fill="#d4a012"/>
<path d="M224.03 148.40L232.63 143.40L232.63 153.40Z" fill="#d4a012"/>
<path d="M237.36 140.25L245.96 135.25L245.96 145.25Z" fill="#d4a012"/>
<path d="M250.69 134.45L259.29 129.45L259.29 139.45Z" fill="#d4a012"/>
<path d="M264.02 129.00L272.62 124.00L272.62 134.00Z" fill="#d4a012"/>
<path d="M277.36 124.05L285.96 119.05L285.96 129.05Z" fill="#d4a012"/>
<path d="M290.69 118.50L299.29 113.50L299.29 123.50Z" fill="#d4a012"/>
<path d="M304.02 113.00L312.62 108.00L312.62 118.00Z" fill="#d4a012"/>
<path d="M317.35 108.30L325.95 103.30L325.95 113.30Z" fill="#d4a012"/>
<path d="M330.68 102.40L339.28 97.40L339.28 107.40Z" fill="#d4a012"/>
</g>
<rect x="55.5" y="20.7" width="305.1" height="244.5" fill="none" stroke="#000" stroke-width="1.5"/>
<g clip-path="url(#c0)">
<rect x="53.24" y="261.60" width="6.80" height="6.80" fill="#4a4a4a"/>
<circle cx="56.83" cy="260.11" r="4.10" fill="#f23a3a"/>
<path d="M57.02 259.23L62.02 267.83L52.02 267.83Z" fill="#1e66e6"/>
<path d="M52.40 259.48L62.40 259.48L57.40 268.08Z" fill="#28a862"/>
<path d="M57.78 259.27L62.78 264.27L57.78 269.27L52.78 264.27Z" fill="#b46ee8"/>
<path d="M51.58 263.53L60.18 258.53L60.18 268.53Z" fill="#d4a012"/>
</g>
<path d="M55.50 265.2v-4 M74.53 265.2v-2.2 M93.56 265.2v-4 M112.59 265.2v-2.2 M131.62 265.2v-4 M150.65 265.2v-2.2 M169.68 265.2v-4 M188.71 265.2v-2.2 M207.74 265.2v-4 M226.77 265.2v-2.2 M245.80 265.2v-4 M264.83 265.2v-2.2 M283.86 265.2v-4 M302.89 265.2v-2.2 M321.92 265.2v-4 M340.95 265.2v-2.2 M359.98 265.2v-4 M55.5 265.00h4 M55.5 240.55h2.2 M55.5 216.10h4 M55.5 191.65h2.2 M55.5 167.20h4 M55.5 142.75h2.2 M55.5 118.30h4 M55.5 93.85h2.2 M55.5 69.40h4 M55.5 44.95h2.2 M55.5 20.50h4" stroke="#000" stroke-width="1.4" fill="none"/>
<text x="55.50" y="282.8" font-size="14" font-weight="bold" text-anchor="middle">0.0</text>
<text x="93.56" y="282.8" font-size="14" font-weight="bold" text-anchor="middle">0.2</text>
<text x="131.62" y="282.8" font-size="14" font-weight="bold" text-anchor="middle">0.4</text>
<text x="169.68" y="282.8" font-size="14" font-weight="bold" text-anchor="middle">0.6</text>
<text x="207.74" y="282.8" font-size="14" font-weight="bold" text-anchor="middle">0.8</text>
<text x="245.80" y="282.8" font-size="14" font-weight="bold" text-anchor="middle">1.0</text>
<text x="283.86" y="282.8" font-size="14" font-weight="bold" text-anchor="middle">1.2</text>
<text x="321.92" y="282.8" font-size="14" font-weight="bold" text-anchor="middle">1.4</text>
<text x="359.98" y="282.8" font-size="14" font-weight="bold" text-anchor="middle">1.6</text>
<text x="50.3" y="269.60" font-size="14" font-weight="bold" text-anchor="end">0.0</text>
<text x="50.3" y="220.70" font-size="14" font-weight="bold" text-anchor="end">0.4</text>
<text x="50.3" y="171.80" font-size="14" font-weight="bold" text-anchor="end">0.8</text>
<text x="50.3" y="122.90" font-size="14" font-weight="bold" text-anchor="end">1.2</text>
<text x="50.3" y="74.00" font-size="14" font-weight="bold" text-anchor="end">1.6</text>
<text x="50.3" y="25.10" font-size="14" font-weight="bold" text-anchor="end">2.0</text>
<text x="210" y="298.7" font-size="16" font-weight="bold" text-anchor="middle">strain</text>
<text transform="translate(25.3,138.5) rotate(-90)" x="0" y="0" font-size="16" font-weight="bold" text-anchor="middle">stress (MPa)</text>
<text x="227.6" y="41.8" font-size="16" font-weight="bold">C00 rubber</text>
<text x="292.6" y="242" font-size="16" font-weight="bold">d(1)</text>
<rect x="205.3" y="151.2" width="78.6" height="54.5" fill="none" stroke="#ff0000" stroke-width="2"/>
<text x="61.00" y="36.7" font-size="15">model data</text>
<text x="158.40" y="36.7" font-size="15">test data</text>
<path d="M60.50 49.40H95.50" stroke="#3c3c3c" stroke-width="1.5" fill="none"/>
<text x="98.80" y="55.00" font-size="15">293K</text>
<rect x="157.60" y="46.20" width="6.80" height="6.80" fill="#4a4a4a"/>
<text x="181.80" y="55.00" font-size="15">293K</text>
<path d="M60.50 68.06H95.50" stroke="#f23a3a" stroke-width="1.5" fill="none" stroke-dasharray="6 5.5"/>
<text x="98.80" y="73.66" font-size="15">313K</text>
<circle cx="161.00" cy="68.26" r="4.10" fill="#f23a3a"/>
<text x="181.80" y="73.66" font-size="15">313K</text>
<path d="M60.50 86.72H95.50" stroke="#1e66e6" stroke-width="1.5" fill="none" stroke-dasharray="2 5"/>
<text x="98.80" y="92.32" font-size="15">333K</text>
<path d="M161.00 82.62L166.00 91.22L156.00 91.22Z" fill="#1e66e6"/>
<text x="181.80" y="92.32" font-size="15">333K</text>
<path d="M60.50 105.38H95.50" stroke="#28a862" stroke-width="1.5" fill="none" stroke-dasharray="7 2.5 1.5 2.5"/>
<text x="98.80" y="110.98" font-size="15">353K</text>
<path d="M156.00 101.28L166.00 101.28L161.00 109.88Z" fill="#28a862"/>
<text x="181.80" y="110.98" font-size="15">353K</text>
<path d="M60.50 124.04H95.50" stroke="#b46ee8" stroke-width="1.5" fill="none" stroke-dasharray="5 2.5 1.5 2.5 1.5 2.5"/>
<text x="98.80" y="129.64" font-size="15">363K</text>
<path d="M161.00 119.24L166.00 124.24L161.00 129.24L156.00 124.24Z" fill="#b46ee8"/>
<text x="181.80" y="129.64" font-size="15">363K</text>
<path d="M60.50 142.70H95.50" stroke="#d4a012" stroke-width="1.5" fill="none" stroke-dasharray="2.6 2.8"/>
<text x="98.80" y="148.30" font-size="15">383K</text>
<path d="M156.70 142.90L165.30 137.90L165.30 147.90Z" fill="#d4a012"/>
<text x="181.80" y="148.30" font-size="15">383K</text>
<g clip-path="url(#cr)">
<polyline points="-194.80,411.70 -190.99,409.40 -187.18,408.41 -183.36,407.42 -179.55,406.44 -175.74,405.46 -171.93,404.48 -168.11,403.51 -164.30,402.53 -160.49,401.57 -156.68,400.60 -152.86,399.64 -149.05,398.68 -145.24,397.72 -141.43,396.77 -137.61,395.82 -133.80,394.87 -129.99,393.93 -126.18,392.99 -122.36,392.05 -118.55,391.12 -114.74,390.18 -110.93,389.25 -107.11,388.33 -103.30,387.41 -99.49,386.48 -95.68,385.57 -91.86,384.65 -88.05,383.74 -84.24,382.83 -80.43,381.92 -76.61,381.02 -72.80,380.11 -68.99,379.22 -65.18,378.32 -61.36,377.42 -57.55,376.53 -53.74,375.64 -49.93,374.76 -46.11,373.87 -42.30,372.99 -38.49,372.11 -34.68,371.23 -30.86,370.36 -27.05,369.49 -23.24,368.61 -19.43,367.75 -15.61,366.88 -11.80,366.02 -7.99,365.16 -4.18,364.30 -0.36,363.44 3.45,362.58 7.26,361.73 11.07,360.88 14.89,360.03 18.70,359.18 22.51,358.34 26.32,357.49 30.14,356.65 33.95,355.81 37.76,354.98 41.57,354.14 45.39,353.31 49.20,352.47 53.01,351.64 56.82,350.81 60.64,349.99 64.45,349.16 68.26,348.34 72.07,347.52 75.89,346.70 79.70,345.88 83.51,345.06 87.32,344.24 91.14,343.43 94.95,342.62 98.76,341.81 102.57,341.00 106.39,340.19 110.20,339.38 114.01,338.57 117.82,337.77 121.64,336.97 125.45,336.16 129.26,335.36 133.07,334.56 136.89,333.76 140.70,332.97 144.51,332.17 148.32,331.38 152.14,330.58 155.95,329.79 159.76,329.00 163.57,328.21 167.39,327.42 171.20,326.63 175.01,325.84 178.82,325.05 182.64,324.27 186.45,323.48 190.26,322.70 194.07,321.91 197.89,321.13 201.70,320.35 205.51,319.57 209.32,318.79 213.14,318.01 216.95,317.23 220.76,316.45 224.57,315.67 228.39,314.89 232.20,314.11 236.01,313.34 239.82,312.56 243.64,311.79 247.45,311.01 251.26,310.24 255.07,309.46 258.89,308.69 262.70,307.91 266.51,307.14 270.32,306.37 274.14,305.59 277.95,304.82 281.76,304.05 285.57,303.28 289.39,302.50 293.20,301.73 297.01,300.96 300.82,300.19 304.64,299.42 308.45,298.64 312.26,297.87 316.07,297.10 319.89,296.33 323.70,295.56 327.51,294.79 331.32,294.01 335.14,293.24 338.95,292.47 342.76,291.70 346.57,290.92 350.39,290.15 354.20,289.38 358.01,288.60 361.82,287.83 365.64,287.05 369.45,286.28 373.26,285.50 377.07,284.73 380.89,283.95 384.70,283.17 388.51,282.40 392.32,281.62 396.14,280.84 399.95,280.06 403.76,279.28 407.57,278.50 411.39,277.72 415.20,276.94 419.01,276.16 422.82,275.37 426.64,274.59 430.45,273.81 434.26,273.02 438.07,272.23 441.89,271.45 445.70,270.66 449.51,269.87 453.32,269.08 457.14,268.29 460.95,267.50 464.76,266.70 468.57,265.91 472.39,265.11 476.20,264.32 480.01,263.52 483.82,262.72 487.64,261.92 491.45,261.12 495.26,260.32 499.07,259.51 502.89,258.71 506.70,257.90 510.51,257.10 514.33,256.29 518.14,255.48 521.95,254.66 525.76,253.85 529.58,253.04 533.39,252.22 537.20,251.40 541.01,250.58 544.82,249.76 548.64,248.94 552.45,248.12 556.26,247.29 560.07,246.46 563.89,245.63 567.70,244.80 571.51,243.97 575.32,243.14 579.14,242.30 582.95,241.46 586.76,240.62 590.58,239.78 594.39,238.94 598.20,238.09 602.01,237.24 605.83,236.39 609.64,235.54 613.45,234.69 617.26,233.83 621.08,232.98 624.89,232.12 628.70,231.25 632.51,230.39 636.33,229.52 640.14,228.65 643.95,227.78 647.76,226.91 651.58,226.03 655.39,225.16 659.20,224.28 663.01,223.39 666.83,222.51 670.64,221.62 674.45,220.73 678.26,219.84 682.08,218.94 685.89,218.05 689.70,217.15 693.51,216.24 697.32,215.34 701.14,214.43 704.95,213.52 708.76,212.61 712.57,211.69 716.39,210.77 720.20,209.85 724.01,208.93 727.82,208.00 731.64,207.07 735.45,206.14 739.26,205.20 743.07,204.26 746.89,203.32 750.70,202.38 754.51,201.43 758.32,200.48 762.14,199.53 765.95,198.57 769.76,197.61 773.58,196.65 777.39,195.68 781.20,194.71 785.01,193.74 788.83,192.77 792.64,191.79 796.45,190.80 800.26,189.82 804.08,188.83 807.89,187.84 811.70,186.84 815.51,185.84 819.33,184.84 823.14,183.84 826.95,182.83 830.76,181.81 834.58,180.80 838.39,179.78 842.20,178.75 846.01,177.73 849.83,176.70 853.64,175.66 857.45,174.62 861.26,173.58 865.08,172.54 868.89,171.49 872.70,170.43 876.51,169.38 880.32,168.32 884.14,167.25 887.95,166.18 891.76,165.11 895.57,164.03 899.39,162.95 903.20,161.87 907.01,160.78 910.82,159.69 914.64,158.59 918.45,157.49 922.26,156.38 926.07,155.27 929.89,154.16 933.70,153.04 937.51,151.92 941.33,150.80 945.14,149.67 948.95,148.53" fill="none" stroke="#3c3c3c" stroke-width="1.5"/>
<polyline points="-194.80,411.70 -190.99,407.98 -187.18,406.51 -183.36,405.06 -179.55,403.62 -175.74,402.20 -171.93,400.79 -168.11,399.40 -164.30,398.02 -160.49,396.65 -156.68,395.30 -152.86,393.97 -149.05,392.65 -145.24,391.34 -141.43,390.04 -137.61,388.76 -133.80,387.49 -129.99,386.24 -126.18,384.99 -122.36,383.76 -118.55,382.55 -114.74,381.34 -110.93,380.15 -107.11,378.96 -103.30,377.79 -99.49,376.63 -95.68,375.49 -91.86,374.35 -88.05,373.22 -84.24,372.11 -80.43,371.00 -76.61,369.91 -72.80,368.82 -68.99,367.75 -65.18,366.68 -61.36,365.63 -57.55,364.58 -53.74,363.54 -49.93,362.52 -46.11,361.50 -42.30,360.49 -38.49,359.48 -34.68,358.49 -30.86,357.50 -27.05,356.52 -23.24,355.55 -19.43,354.59 -15.61,353.63 -11.80,352.68 -7.99,351.74 -4.18,350.81 -0.36,349.88 3.45,348.96 7.26,348.04 11.07,347.13 14.89,346.23 18.70,345.33 22.51,344.44 26.32,343.55 30.14,342.67 33.95,341.80 37.76,340.93 41.57,340.06 45.39,339.20 49.20,338.35 53.01,337.49 56.82,336.65 60.64,335.80 64.45,334.96 68.26,334.13 72.07,333.30 75.89,332.47 79.70,331.64 83.51,330.82 87.32,330.00 91.14,329.19 94.95,328.37 98.76,327.56 102.57,326.75 106.39,325.95 110.20,325.14 114.01,324.34 117.82,323.54 121.64,322.74 125.45,321.95 129.26,321.15 133.07,320.35 136.89,319.56 140.70,318.77 144.51,317.97 148.32,317.18 152.14,316.39 155.95,315.60 159.76,314.80 163.57,314.01 167.39,313.22 171.20,312.43 175.01,311.63 178.82,310.84 182.64,310.04 186.45,309.25 190.26,308.45 194.07,307.65 197.89,306.85 201.70,306.05 205.51,305.25 209.32,304.44 213.14,303.64 216.95,302.83 220.76,302.02 224.57,301.21 228.39,300.40 232.20,299.59 236.01,298.78 239.82,297.96 243.64,297.15 247.45,296.33 251.26,295.51 255.07,294.69 258.89,293.87 262.70,293.04 266.51,292.22 270.32,291.39 274.14,290.56 277.95,289.73 281.76,288.90 285.57,288.06 289.39,287.22 293.20,286.39 297.01,285.55 300.82,284.70 304.64,283.86 308.45,283.01 312.26,282.16 316.07,281.31 319.89,280.46 323.70,279.61 327.51,278.75 331.32,277.89 335.14,277.03 338.95,276.17 342.76,275.30 346.57,274.43 350.39,273.56 354.20,272.69 358.01,271.81 361.82,270.93 365.64,270.05 369.45,269.17 373.26,268.29 377.07,267.40 380.89,266.51 384.70,265.62 388.51,264.72 392.32,263.82 396.14,262.92 399.95,262.02 403.76,261.11 407.57,260.20 411.39,259.29 415.20,258.38 419.01,257.46 422.82,256.54 426.64,255.61 430.45,254.69 434.26,253.76 438.07,252.83 441.89,251.89 445.70,250.95 449.51,250.01 453.32,249.07 457.14,248.12 460.95,247.17 464.76,246.21 468.57,245.26 472.39,244.29 476.20,243.33 480.01,242.36 483.82,241.39 487.64,240.42 491.45,239.44 495.26,238.46 499.07,237.47 502.89,236.49 506.70,235.49 510.51,234.50 514.33,233.50 518.14,232.50 521.95,231.49 525.76,230.48 529.58,229.47 533.39,228.45 537.20,227.43 541.01,226.41 544.82,225.38 548.64,224.34 552.45,223.31 556.26,222.27 560.07,221.22 563.89,220.17 567.70,219.12 571.51,218.06 575.32,217.00 579.14,215.94 582.95,214.86 586.76,213.79 590.58,212.71 594.39,211.63 598.20,210.54 602.01,209.45 605.83,208.35 609.64,207.25 613.45,206.14 617.26,205.03 621.08,203.91 624.89,202.79 628.70,201.67 632.51,200.54 636.33,199.40 640.14,198.26 643.95,197.11 647.76,195.96 651.58,194.80 655.39,193.64 659.20,192.48 663.01,191.30 666.83,190.13 670.64,188.94 674.45,187.76 678.26,186.56 682.08,185.36 685.89,184.16 689.70,182.95 693.51,181.73 697.32,180.51 701.14,179.28 704.95,178.05 708.76,176.81 712.57,175.56 716.39,174.31 720.20,173.05 724.01,171.79 727.82,170.52 731.64,169.24 735.45,167.96 739.26,166.67 743.07,165.38 746.89,164.08 750.70,162.77 754.51,161.45 758.32,160.13 762.14,158.81 765.95,157.47 769.76,156.13 773.58,154.79 777.39,153.43 781.20,152.07 785.01,150.71 788.83,149.33 792.64,147.95 796.45,146.56 800.26,145.17 804.08,143.77 807.89,142.36 811.70,140.94 815.51,139.52 819.33,138.09 823.14,136.65 826.95,135.21 830.76,133.76 834.58,132.30 838.39,130.83 842.20,129.35 846.01,127.87 849.83,126.38 853.64,124.89 857.45,123.38 861.26,121.87 865.08,120.35 868.89,118.82 872.70,117.28 876.51,115.74 880.32,114.19 884.14,112.63 887.95,111.06 891.76,109.48 895.57,107.90 899.39,106.31 903.20,104.70 907.01,103.10 910.82,101.48 914.64,99.85 918.45,98.22 922.26,96.58 926.07,94.92 929.89,93.26 933.70,91.60 937.51,89.92 941.33,88.23 945.14,86.54 948.95,84.84" fill="none" stroke="#f23a3a" stroke-width="1.5" stroke-dasharray="6 5.5"/>
<polyline points="-194.80,411.70 -190.99,407.59 -187.18,406.26 -183.36,404.94 -179.55,403.63 -175.74,402.33 -171.93,401.04 -168.11,399.77 -164.30,398.50 -160.49,397.25 -156.68,396.00 -152.86,394.77 -149.05,393.55 -145.24,392.33 -141.43,391.13 -137.61,389.94 -133.80,388.75 -129.99,387.58 -126.18,386.41 -122.36,385.25 -118.55,384.10 -114.74,382.96 -110.93,381.83 -107.11,380.71 -103.30,379.59 -99.49,378.49 -95.68,377.39 -91.86,376.30 -88.05,375.21 -84.24,374.14 -80.43,373.07 -76.61,372.00 -72.80,370.95 -68.99,369.90 -65.18,368.86 -61.36,367.82 -57.55,366.79 -53.74,365.76 -49.93,364.75 -46.11,363.73 -42.30,362.73 -38.49,361.72 -34.68,360.73 -30.86,359.73 -27.05,358.75 -23.24,357.76 -19.43,356.78 -15.61,355.81 -11.80,354.84 -7.99,353.88 -4.18,352.92 -0.36,351.96 3.45,351.01 7.26,350.06 11.07,349.11 14.89,348.17 18.70,347.23 22.51,346.30 26.32,345.36 30.14,344.44 33.95,343.51 37.76,342.59 41.57,341.67 45.39,340.75 49.20,339.84 53.01,338.93 56.82,338.02 60.64,337.11 64.45,336.20 68.26,335.30 72.07,334.40 75.89,333.50 79.70,332.60 83.51,331.71 87.32,330.81 91.14,329.92 94.95,329.03 98.76,328.14 102.57,327.25 106.39,326.36 110.20,325.47 114.01,324.58 117.82,323.70 121.64,322.81 125.45,321.93 129.26,321.04 133.07,320.15 136.89,319.27 140.70,318.38 144.51,317.50 148.32,316.61 152.14,315.73 155.95,314.84 159.76,313.96 163.57,313.07 167.39,312.18 171.20,311.29 175.01,310.40 178.82,309.51 182.64,308.61 186.45,307.72 190.26,306.82 194.07,305.93 197.89,305.03 201.70,304.13 205.51,303.23 209.32,302.33 213.14,301.43 216.95,300.52 220.76,299.62 224.57,298.71 228.39,297.80 232.20,296.89 236.01,295.98 239.82,295.07 243.64,294.16 247.45,293.25 251.26,292.33 255.07,291.42 258.89,290.50 262.70,289.58 266.51,288.66 270.32,287.74 274.14,286.82 277.95,285.90 281.76,284.98 285.57,284.06 289.39,283.13 293.20,282.20 297.01,281.28 300.82,280.35 304.64,279.42 308.45,278.49 312.26,277.56 316.07,276.63 319.89,275.70 323.70,274.77 327.51,273.83 331.32,272.90 335.14,271.96 338.95,271.02 342.76,270.09 346.57,269.15 350.39,268.21 354.20,267.27 358.01,266.33 361.82,265.39 365.64,264.45 369.45,263.50 373.26,262.56 377.07,261.62 380.89,260.67 384.70,259.73 388.51,258.78 392.32,257.83 396.14,256.89 399.95,255.94 403.76,254.99 407.57,254.04 411.39,253.09 415.20,252.14 419.01,251.19 422.82,250.24 426.64,249.28 430.45,248.33 434.26,247.38 438.07,246.42 441.89,245.47 445.70,244.51 449.51,243.56 453.32,242.60 457.14,241.65 460.95,240.69 464.76,239.73 468.57,238.78 472.39,237.82 476.20,236.86 480.01,235.90 483.82,234.94 487.64,233.98 491.45,233.02 495.26,232.06 499.07,231.10 502.89,230.14 506.70,229.17 510.51,228.21 514.33,227.24 518.14,226.28 521.95,225.31 525.76,224.34 529.58,223.37 533.39,222.40 537.20,221.43 541.01,220.45 544.82,219.48 548.64,218.50 552.45,217.52 556.26,216.54 560.07,215.56 563.89,214.58 567.70,213.59 571.51,212.60 575.32,211.61 579.14,210.62 582.95,209.62 586.76,208.63 590.58,207.63 594.39,206.62 598.20,205.62 602.01,204.61 605.83,203.60 609.64,202.59 613.45,201.57 617.26,200.56 621.08,199.53 624.89,198.51 628.70,197.48 632.51,196.45 636.33,195.42 640.14,194.38 643.95,193.34 647.76,192.29 651.58,191.24 655.39,190.19 659.20,189.14 663.01,188.08 666.83,187.01 670.64,185.95 674.45,184.87 678.26,183.80 682.08,182.72 685.89,181.64 689.70,180.55 693.51,179.46 697.32,178.36 701.14,177.26 704.95,176.15 708.76,175.04 712.57,173.92 716.39,172.80 720.20,171.68 724.01,170.55 727.82,169.41 731.64,168.27 735.45,167.13 739.26,165.98 743.07,164.82 746.89,163.66 750.70,162.49 754.51,161.32 758.32,160.14 762.14,158.96 765.95,157.77 769.76,156.57 773.58,155.37 777.39,154.16 781.20,152.95 785.01,151.73 788.83,150.50 792.64,149.27 796.45,148.03 800.26,146.79 804.08,145.54 807.89,144.28 811.70,143.02 815.51,141.75 819.33,140.47 823.14,139.18 826.95,137.89 830.76,136.59 834.58,135.29 838.39,133.97 842.20,132.65 846.01,131.33 849.83,129.99 853.64,128.65 857.45,127.30 861.26,125.94 865.08,124.58 868.89,123.20 872.70,121.82 876.51,120.43 880.32,119.04 884.14,117.63 887.95,116.22 891.76,114.80 895.57,113.37 899.39,111.94 903.20,110.49 907.01,109.04 910.82,107.57 914.64,106.10 918.45,104.62 922.26,103.13 926.07,101.64 929.89,100.13 933.70,98.61 937.51,97.09 941.33,95.56 945.14,94.01 948.95,92.46" fill="none" stroke="#1e66e6" stroke-width="1.5" stroke-dasharray="2 5"/>
<polyline points="-194.80,411.70 -190.99,408.40 -187.18,407.08 -183.36,405.77 -179.55,404.47 -175.74,403.18 -171.93,401.89 -168.11,400.60 -164.30,399.33 -160.49,398.05 -156.68,396.79 -152.86,395.53 -149.05,394.27 -145.24,393.02 -141.43,391.78 -137.61,390.54 -133.80,389.31 -129.99,388.08 -126.18,386.86 -122.36,385.64 -118.55,384.43 -114.74,383.22 -110.93,382.02 -107.11,380.82 -103.30,379.63 -99.49,378.45 -95.68,377.27 -91.86,376.09 -88.05,374.92 -84.24,373.75 -80.43,372.59 -76.61,371.43 -72.80,370.28 -68.99,369.13 -65.18,367.99 -61.36,366.85 -57.55,365.71 -53.74,364.58 -49.93,363.46 -46.11,362.33 -42.30,361.22 -38.49,360.10 -34.68,358.99 -30.86,357.89 -27.05,356.79 -23.24,355.69 -19.43,354.60 -15.61,353.51 -11.80,352.42 -7.99,351.34 -4.18,350.26 -0.36,349.18 3.45,348.11 7.26,347.05 11.07,345.98 14.89,344.92 18.70,343.86 22.51,342.81 26.32,341.76 30.14,340.71 33.95,339.67 37.76,338.63 41.57,337.59 45.39,336.56 49.20,335.53 53.01,334.50 56.82,333.47 60.64,332.45 64.45,331.43 68.26,330.41 72.07,329.40 75.89,328.39 79.70,327.38 83.51,326.38 87.32,325.37 91.14,324.37 94.95,323.38 98.76,322.38 102.57,321.39 106.39,320.40 110.20,319.41 114.01,318.42 117.82,317.44 121.64,316.46 125.45,315.48 129.26,314.50 133.07,313.53 136.89,312.55 140.70,311.58 144.51,310.61 148.32,309.65 152.14,308.68 155.95,307.72 159.76,306.76 163.57,305.80 167.39,304.84 171.20,303.88 175.01,302.93 178.82,301.97 182.64,301.02 186.45,300.07 190.26,299.12 194.07,298.17 197.89,297.23 201.70,296.28 205.51,295.34 209.32,294.40 213.14,293.45 216.95,292.51 220.76,291.58 224.57,290.64 228.39,289.70 232.20,288.77 236.01,287.83 239.82,286.90 243.64,285.97 247.45,285.04 251.26,284.11 255.07,283.18 258.89,282.25 262.70,281.33 266.51,280.40 270.32,279.48 274.14,278.56 277.95,277.63 281.76,276.71 285.57,275.79 289.39,274.87 293.20,273.95 297.01,273.04 300.82,272.12 304.64,271.20 308.45,270.29 312.26,269.37 316.07,268.46 319.89,267.55 323.70,266.63 327.51,265.72 331.32,264.81 335.14,263.90 338.95,262.99 342.76,262.08 346.57,261.17 350.39,260.26 354.20,259.36 358.01,258.45 361.82,257.54 365.64,256.64 369.45,255.73 373.26,254.83 377.07,253.92 380.89,253.02 384.70,252.11 388.51,251.21 392.32,250.31 396.14,249.40 399.95,248.50 403.76,247.60 407.57,246.69 411.39,245.79 415.20,244.89 419.01,243.99 422.82,243.09 426.64,242.18 430.45,241.28 434.26,240.38 438.07,239.48 441.89,238.58 445.70,237.68 449.51,236.78 453.32,235.88 457.14,234.97 460.95,234.07 464.76,233.17 468.57,232.27 472.39,231.37 476.20,230.47 480.01,229.57 483.82,228.66 487.64,227.76 491.45,226.86 495.26,225.96 499.07,225.05 502.89,224.15 506.70,223.25 510.51,222.34 514.33,221.44 518.14,220.53 521.95,219.63 525.76,218.72 529.58,217.82 533.39,216.91 537.20,216.00 541.01,215.10 544.82,214.19 548.64,213.28 552.45,212.37 556.26,211.46 560.07,210.55 563.89,209.64 567.70,208.73 571.51,207.81 575.32,206.90 579.14,205.99 582.95,205.07 586.76,204.15 590.58,203.24 594.39,202.32 598.20,201.40 602.01,200.48 605.83,199.56 609.64,198.64 613.45,197.71 617.26,196.79 621.08,195.86 624.89,194.93 628.70,194.00 632.51,193.07 636.33,192.14 640.14,191.21 643.95,190.28 647.76,189.34 651.58,188.40 655.39,187.46 659.20,186.52 663.01,185.58 666.83,184.64 670.64,183.69 674.45,182.74 678.26,181.80 682.08,180.84 685.89,179.89 689.70,178.94 693.51,177.98 697.32,177.02 701.14,176.06 704.95,175.10 708.76,174.14 712.57,173.17 716.39,172.20 720.20,171.23 724.01,170.26 727.82,169.28 731.64,168.31 735.45,167.33 739.26,166.35 743.07,165.36 746.89,164.37 750.70,163.39 754.51,162.39 758.32,161.40 762.14,160.40 765.95,159.41 769.76,158.40 773.58,157.40 777.39,156.39 781.20,155.38 785.01,154.37 788.83,153.36 792.64,152.34 796.45,151.32 800.26,150.30 804.08,149.27 807.89,148.24 811.70,147.21 815.51,146.17 819.33,145.14 823.14,144.09 826.95,143.05 830.76,142.00 834.58,140.95 838.39,139.90 842.20,138.84 846.01,137.78 849.83,136.72 853.64,135.65 857.45,134.58 861.26,133.51 865.08,132.43 868.89,131.35 872.70,130.27 876.51,129.18 880.32,128.09 884.14,126.99 887.95,125.89 891.76,124.79 895.57,123.69 899.39,122.58 903.20,121.46 907.01,120.35 910.82,119.23 914.64,118.10 918.45,116.97 922.26,115.84 926.07,114.70 929.89,113.56 933.70,112.42 937.51,111.27 941.33,110.12 945.14,108.96 948.95,107.80" fill="none" stroke="#28a862" stroke-width="1.5" stroke-dasharray="7 2.5 1.5 2.5"/>
<polyline points="-194.80,411.70 -190.99,407.33 -187.18,405.72 -183.36,404.12 -179.55,402.54 -175.74,400.97 -171.93,399.43 -168.11,397.89 -164.30,396.37 -160.49,394.87 -156.68,393.38 -152.86,391.90 -149.05,390.44 -145.24,389.00 -141.43,387.56 -137.61,386.14 -133.80,384.74 -129.99,383.34 -126.18,381.96 -122.36,380.59 -118.55,379.24 -114.74,377.89 -110.93,376.56 -107.11,375.24 -103.30,373.94 -99.49,372.64 -95.68,371.35 -91.86,370.08 -88.05,368.82 -84.24,367.56 -80.43,366.32 -76.61,365.09 -72.80,363.86 -68.99,362.65 -65.18,361.44 -61.36,360.25 -57.55,359.06 -53.74,357.88 -49.93,356.72 -46.11,355.55 -42.30,354.40 -38.49,353.26 -34.68,352.12 -30.86,350.99 -27.05,349.87 -23.24,348.75 -19.43,347.64 -15.61,346.54 -11.80,345.45 -7.99,344.36 -4.18,343.28 -0.36,342.20 3.45,341.13 7.26,340.07 11.07,339.01 14.89,337.96 18.70,336.91 22.51,335.87 26.32,334.83 30.14,333.80 33.95,332.77 37.76,331.75 41.57,330.73 45.39,329.72 49.20,328.71 53.01,327.70 56.82,326.70 60.64,325.71 64.45,324.71 68.26,323.72 72.07,322.74 75.89,321.75 79.70,320.77 83.51,319.80 87.32,318.82 91.14,317.85 94.95,316.88 98.76,315.91 102.57,314.95 106.39,313.99 110.20,313.03 114.01,312.07 117.82,311.11 121.64,310.15 125.45,309.20 129.26,308.24 133.07,307.29 136.89,306.34 140.70,305.39 144.51,304.44 148.32,303.49 152.14,302.54 155.95,301.59 159.76,300.64 163.57,299.69 167.39,298.73 171.20,297.78 175.01,296.83 178.82,295.88 182.64,294.93 186.45,293.97 190.26,293.01 194.07,292.06 197.89,291.10 201.70,290.14 205.51,289.18 209.32,288.22 213.14,287.26 216.95,286.30 220.76,285.34 224.57,284.38 228.39,283.41 232.20,282.45 236.01,281.49 239.82,280.52 243.64,279.55 247.45,278.59 251.26,277.62 255.07,276.65 258.89,275.69 262.70,274.72 266.51,273.75 270.32,272.78 274.14,271.82 277.95,270.85 281.76,269.88 285.57,268.91 289.39,267.94 293.20,266.97 297.01,266.00 300.82,265.03 304.64,264.06 308.45,263.09 312.26,262.12 316.07,261.15 319.89,260.18 323.70,259.22 327.51,258.25 331.32,257.28 335.14,256.31 338.95,255.34 342.76,254.37 346.57,253.41 350.39,252.44 354.20,251.47 358.01,250.51 361.82,249.54 365.64,248.58 369.45,247.61 373.26,246.65 377.07,245.69 380.89,244.72 384.70,243.76 388.51,242.80 392.32,241.84 396.14,240.88 399.95,239.92 403.76,238.96 407.57,238.01 411.39,237.05 415.20,236.09 419.01,235.14 422.82,234.19 426.64,233.23 430.45,232.28 434.26,231.33 438.07,230.38 441.89,229.44 445.70,228.49 449.51,227.54 453.32,226.60 457.14,225.66 460.95,224.71 464.76,223.77 468.57,222.84 472.39,221.90 476.20,220.96 480.01,220.03 483.82,219.09 487.64,218.16 491.45,217.23 495.26,216.30 499.07,215.38 502.89,214.45 506.70,213.53 510.51,212.61 514.33,211.69 518.14,210.77 521.95,209.85 525.76,208.94 529.58,208.03 533.39,207.12 537.20,206.21 541.01,205.30 544.82,204.39 548.64,203.49 552.45,202.59 556.26,201.69 560.07,200.79 563.89,199.89 567.70,199.00 571.51,198.10 575.32,197.21 579.14,196.32 582.95,195.43 586.76,194.54 590.58,193.65 594.39,192.76 598.20,191.87 602.01,190.99 605.83,190.10 609.64,189.22 613.45,188.33 617.26,187.45 621.08,186.57 624.89,185.68 628.70,184.80 632.51,183.92 636.33,183.04 640.14,182.16 643.95,181.28 647.76,180.39 651.58,179.51 655.39,178.63 659.20,177.75 663.01,176.87 666.83,175.99 670.64,175.11 674.45,174.23 678.26,173.34 682.08,172.46 685.89,171.58 689.70,170.69 693.51,169.81 697.32,168.92 701.14,168.04 704.95,167.15 708.76,166.26 712.57,165.38 716.39,164.49 720.20,163.60 724.01,162.70 727.82,161.81 731.64,160.92 735.45,160.02 739.26,159.13 743.07,158.23 746.89,157.33 750.70,156.43 754.51,155.52 758.32,154.62 762.14,153.71 765.95,152.81 769.76,151.90 773.58,150.98 777.39,150.07 781.20,149.15 785.01,148.24 788.83,147.32 792.64,146.39 796.45,145.47 800.26,144.54 804.08,143.61 807.89,142.68 811.70,141.75 815.51,140.81 819.33,139.87 823.14,138.93 826.95,137.98 830.76,137.04 834.58,136.09 838.39,135.13 842.20,134.18 846.01,133.22 849.83,132.25 853.64,131.29 857.45,130.32 861.26,129.35 865.08,128.37 868.89,127.39 872.70,126.41 876.51,125.42 880.32,124.43 884.14,123.44 887.95,122.44 891.76,121.44 895.57,120.43 899.39,119.42 903.20,118.41 907.01,117.39 910.82,116.37 914.64,115.35 918.45,114.32 922.26,113.28 926.07,112.25 929.89,111.20 933.70,110.16 937.51,109.10 941.33,108.05 945.14,106.99 948.95,105.92" fill="none" stroke="#b46ee8" stroke-width="1.5" stroke-dasharray="5 2.5 1.5 2.5 1.5 2.5"/>
<polyline points="-194.80,411.70 -190.99,408.07 -187.18,405.68 -183.36,403.35 -179.55,401.08 -175.74,398.87 -171.93,396.71 -168.11,394.61 -164.30,392.56 -160.49,390.56 -156.68,388.61 -152.86,386.71 -149.05,384.85 -145.24,383.03 -141.43,381.26 -137.61,379.52 -133.80,377.82 -129.99,376.16 -126.18,374.53 -122.36,372.93 -118.55,371.36 -114.74,369.82 -110.93,368.30 -107.11,366.81 -103.30,365.34 -99.49,363.88 -95.68,362.45 -91.86,361.03 -88.05,359.62 -84.24,358.23 -80.43,356.85 -76.61,355.47 -72.80,354.10 -68.99,352.74 -65.18,351.38 -61.36,350.01 -57.55,348.65 -53.74,347.29 -49.93,345.92 -46.11,344.56 -42.30,343.19 -38.49,341.83 -34.68,340.46 -30.86,339.10 -27.05,337.73 -23.24,336.37 -19.43,335.01 -15.61,333.66 -11.80,332.30 -7.99,330.95 -4.18,329.59 -0.36,328.25 3.45,326.90 7.26,325.56 11.07,324.22 14.89,322.89 18.70,321.56 22.51,320.24 26.32,318.92 30.14,317.60 33.95,316.29 37.76,314.99 41.57,313.69 45.39,312.40 49.20,311.12 53.01,309.84 56.82,308.57 60.64,307.30 64.45,306.05 68.26,304.80 72.07,303.56 75.89,302.33 79.70,301.10 83.51,299.89 87.32,298.69 91.14,297.49 94.95,296.31 98.76,295.13 102.57,293.97 106.39,292.81 110.20,291.67 114.01,290.54 117.82,289.41 121.64,288.31 125.45,287.21 129.26,286.12 133.07,285.05 136.89,283.99 140.70,282.95 144.51,281.91 148.32,280.89 152.14,279.89 155.95,278.89 159.76,277.91 163.57,276.94 167.39,275.97 171.20,275.02 175.01,274.08 178.82,273.14 182.64,272.22 186.45,271.29 190.26,270.38 194.07,269.47 197.89,268.57 201.70,267.67 205.51,266.77 209.32,265.88 213.14,264.99 216.95,264.10 220.76,263.22 224.57,262.33 228.39,261.44 232.20,260.56 236.01,259.67 239.82,258.78 243.64,257.88 247.45,256.99 251.26,256.09 255.07,255.18 258.89,254.27 262.70,253.35 266.51,252.43 270.32,251.50 274.14,250.56 277.95,249.61 281.76,248.66 285.57,247.69 289.39,246.71 293.20,245.73 297.01,244.73 300.82,243.72 304.64,242.69 308.45,241.65 312.26,240.60 316.07,239.54 319.89,238.46 323.70,237.38 327.51,236.28 331.32,235.18 335.14,234.07 338.95,232.95 342.76,231.82 346.57,230.68 350.39,229.54 354.20,228.39 358.01,227.24 361.82,226.09 365.64,224.93 369.45,223.77 373.26,222.61 377.07,221.44 380.89,220.28 384.70,219.11 388.51,217.95 392.32,216.79 396.14,215.63 399.95,214.47 403.76,213.31 407.57,212.16 411.39,211.02 415.20,209.88 419.01,208.75 422.82,207.62 426.64,206.50 430.45,205.38 434.26,204.28 438.07,203.17 441.89,202.08 445.70,200.99 449.51,199.90 453.32,198.82 457.14,197.75 460.95,196.68 464.76,195.61 468.57,194.56 472.39,193.50 476.20,192.45 480.01,191.41 483.82,190.37 487.64,189.34 491.45,188.31 495.26,187.29 499.07,186.27 502.89,185.26 506.70,184.25 510.51,183.24 514.33,182.24 518.14,181.24 521.95,180.25 525.76,179.26 529.58,178.27 533.39,177.29 537.20,176.31 541.01,175.34 544.82,174.37 548.64,173.40 552.45,172.44 556.26,171.48 560.07,170.52 563.89,169.57 567.70,168.62 571.51,167.67 575.32,166.72 579.14,165.78 582.95,164.84 586.76,163.91 590.58,162.97 594.39,162.04 598.20,161.11 602.01,160.18 605.83,159.26 609.64,158.34 613.45,157.42 617.26,156.50 621.08,155.58 624.89,154.67 628.70,153.76 632.51,152.85 636.33,151.94 640.14,151.03 643.95,150.12 647.76,149.22 651.58,148.31 655.39,147.41 659.20,146.51 663.01,145.61 666.83,144.71 670.64,143.81 674.45,142.91 678.26,142.01 682.08,141.12 685.89,140.22 689.70,139.32 693.51,138.43 697.32,137.53 701.14,136.64 704.95,135.74 708.76,134.85 712.57,133.95 716.39,133.06 720.20,132.16 724.01,131.27 727.82,130.37 731.64,129.47 735.45,128.58 739.26,127.68 743.07,126.78 746.89,125.88 750.70,124.98 754.51,124.08 758.32,123.18 762.14,122.27 765.95,121.37 769.76,120.46 773.58,119.55 777.39,118.64 781.20,117.73 785.01,116.82 788.83,115.91 792.64,114.99 796.45,114.07 800.26,113.15 804.08,112.23 807.89,111.31 811.70,110.38 815.51,109.45 819.33,108.52 823.14,107.59 826.95,106.65 830.76,105.71 834.58,104.77 838.39,103.83 842.20,102.88 846.01,101.93 849.83,100.98 853.64,100.02 857.45,99.06 861.26,98.10 865.08,97.13 868.89,96.16 872.70,95.19 876.51,94.21 880.32,93.23 884.14,92.24 887.95,91.25 891.76,90.26 895.57,89.26 899.39,88.26 903.20,87.26 907.01,86.25 910.82,85.23 914.64,84.22 918.45,83.19 922.26,82.17 926.07,81.13 929.89,80.10 933.70,79.05 937.51,78.01 941.33,76.95 945.14,75.90 948.95,74.83" fill="none" stroke="#d4a012" stroke-width="1.5" stroke-dasharray="2.6 2.8"/>
<rect x="-140.97" y="387.30" width="6.80" height="6.80" fill="#4a4a4a"/>
<rect x="-87.56" y="373.90" width="6.80" height="6.80" fill="#4a4a4a"/>
<rect x="-34.15" y="361.30" width="6.80" height="6.80" fill="#4a4a4a"/>
<rect x="19.26" y="349.30" width="6.80" height="6.80" fill="#4a4a4a"/>
<rect x="72.68" y="339.10" width="6.80" height="6.80" fill="#4a4a4a"/>
<rect x="126.09" y="328.90" width="6.80" height="6.80" fill="#4a4a4a"/>
<rect x="179.50" y="318.50" width="6.80" height="6.80" fill="#4a4a4a"/>
<rect x="232.92" y="308.10" width="6.80" height="6.80" fill="#4a4a4a"/>
<rect x="286.33" y="297.90" width="6.80" height="6.80" fill="#4a4a4a"/>
<rect x="339.74" y="287.64" width="6.80" height="6.80" fill="#4a4a4a"/>
<rect x="393.16" y="277.10" width="6.80" height="6.80" fill="#4a4a4a"/>
<rect x="446.57" y="265.90" width="6.80" height="6.80" fill="#4a4a4a"/>
<rect x="499.98" y="253.05" width="6.80" height="6.80" fill="#4a4a4a"/>
<rect x="553.40" y="240.35" width="6.80" height="6.80" fill="#4a4a4a"/>
<rect x="606.81" y="226.90" width="6.80" height="6.80" fill="#4a4a4a"/>
<rect x="660.22" y="211.90" width="6.80" height="6.80" fill="#4a4a4a"/>
<rect x="713.64" y="196.80" width="6.80" height="6.80" fill="#4a4a4a"/>
<rect x="767.05" y="182.30" width="6.80" height="6.80" fill="#4a4a4a"/>
<rect x="820.46" y="164.90" width="6.80" height="6.80" fill="#4a4a4a"/>
<rect x="873.88" y="153.50" width="6.80" height="6.80" fill="#4a4a4a"/>
<rect x="927.29" y="142.30" width="6.80" height="6.80" fill="#4a4a4a"/>
<circle cx="-135.77" cy="387.10" r="4.10" fill="#f23a3a"/>
<circle cx="-82.36" cy="369.50" r="4.10" fill="#f23a3a"/>
<circle cx="-28.95" cy="357.70" r="4.10" fill="#f23a3a"/>
<circle cx="24.46" cy="343.81" r="4.10" fill="#f23a3a"/>
<circle cx="77.88" cy="331.10" r="4.10" fill="#f23a3a"/>
<circle cx="131.29" cy="322.70" r="4.10" fill="#f23a3a"/>
<circle cx="184.70" cy="314.70" r="4.10" fill="#f23a3a"/>
<circle cx="238.12" cy="306.50" r="4.10" fill="#f23a3a"/>
<circle cx="291.53" cy="296.30" r="4.10" fill="#f23a3a"/>
<circle cx="344.94" cy="284.51" r="4.10" fill="#f23a3a"/>
<circle cx="398.36" cy="272.50" r="4.10" fill="#f23a3a"/>
<circle cx="451.77" cy="261.60" r="4.10" fill="#f23a3a"/>
<circle cx="505.18" cy="246.90" r="4.10" fill="#f23a3a"/>
<circle cx="558.60" cy="233.05" r="4.10" fill="#f23a3a"/>
<circle cx="612.01" cy="217.30" r="4.10" fill="#f23a3a"/>
<circle cx="665.42" cy="201.70" r="4.10" fill="#f23a3a"/>
<circle cx="718.84" cy="186.60" r="4.10" fill="#f23a3a"/>
<circle cx="772.25" cy="172.90" r="4.10" fill="#f23a3a"/>
<circle cx="825.66" cy="158.70" r="4.10" fill="#f23a3a"/>
<circle cx="879.08" cy="145.70" r="4.10" fill="#f23a3a"/>
<circle cx="932.49" cy="133.10" r="4.10" fill="#f23a3a"/>
<path d="M-138.97 382.40L-133.97 391.00L-143.97 391.00Z" fill="#1e66e6"/>
<path d="M-85.56 367.40L-80.56 376.00L-90.56 376.00Z" fill="#1e66e6"/>
<path d="M-32.15 356.20L-27.15 364.80L-37.15 364.80Z" fill="#1e66e6"/>
<path d="M21.26 343.20L26.26 351.80L16.26 351.80Z" fill="#1e66e6"/>
<path d="M74.68 330.60L79.68 339.20L69.68 339.20Z" fill="#1e66e6"/>
<path d="M128.09 317.80L133.09 326.40L123.09 326.40Z" fill="#1e66e6"/>
<path d="M181.50 306.40L186.50 315.00L176.50 315.00Z" fill="#1e66e6"/>
<path d="M234.92 295.80L239.92 304.40L229.92 304.40Z" fill="#1e66e6"/>
<path d="M288.33 283.20L293.33 291.80L283.33 291.80Z" fill="#1e66e6"/>
<path d="M341.74 271.35L346.74 279.95L336.74 279.95Z" fill="#1e66e6"/>
<path d="M395.16 258.60L400.16 267.20L390.16 267.20Z" fill="#1e66e6"/>
<path d="M448.57 242.20L453.57 250.80L443.57 250.80Z" fill="#1e66e6"/>
<path d="M501.98 229.05L506.98 237.65L496.98 237.65Z" fill="#1e66e6"/>
<path d="M555.40 215.15L560.40 223.75L550.40 223.75Z" fill="#1e66e6"/>
<path d="M608.81 200.80L613.81 209.40L603.81 209.40Z" fill="#1e66e6"/>
<path d="M662.22 185.70L667.22 194.30L657.22 194.30Z" fill="#1e66e6"/>
<path d="M715.64 170.70L720.64 179.30L710.64 179.30Z" fill="#1e66e6"/>
<path d="M769.05 159.20L774.05 167.80L764.05 167.80Z" fill="#1e66e6"/>
<path d="M822.46 146.40L827.46 155.00L817.46 155.00Z" fill="#1e66e6"/>
<path d="M875.88 132.00L880.88 140.60L870.88 140.60Z" fill="#1e66e6"/>
<path d="M929.29 119.40L934.29 128.00L924.29 128.00Z" fill="#1e66e6"/>
<path d="M-140.77 385.51L-130.77 385.51L-135.77 394.11Z" fill="#28a862"/>
<path d="M-87.36 366.80L-77.36 366.80L-82.36 375.40Z" fill="#28a862"/>
<path d="M-33.95 351.47L-23.95 351.47L-28.95 360.07Z" fill="#28a862"/>
<path d="M19.46 337.90L29.46 337.90L24.46 346.50Z" fill="#28a862"/>
<path d="M72.88 325.17L82.88 325.17L77.88 333.77Z" fill="#28a862"/>
<path d="M126.29 313.10L136.29 313.10L131.29 321.70Z" fill="#28a862"/>
<path d="M179.70 301.56L189.70 301.56L184.70 310.16Z" fill="#28a862"/>
<path d="M233.12 289.80L243.12 289.80L238.12 298.40Z" fill="#28a862"/>
<path d="M286.53 276.04L296.53 276.04L291.53 284.64Z" fill="#28a862"/>
<path d="M339.94 261.57L349.94 261.57L344.94 270.17Z" fill="#28a862"/>
<path d="M393.36 249.20L403.36 249.20L398.36 257.80Z" fill="#28a862"/>
<path d="M446.77 240.30L456.77 240.30L451.77 248.90Z" fill="#28a862"/>
<path d="M500.18 226.35L510.18 226.35L505.18 234.95Z" fill="#28a862"/>
<path d="M553.60 211.05L563.60 211.05L558.60 219.65Z" fill="#28a862"/>
<path d="M607.01 196.50L617.01 196.50L612.01 205.10Z" fill="#28a862"/>
<path d="M660.42 181.70L670.42 181.70L665.42 190.30Z" fill="#28a862"/>
<path d="M713.84 167.20L723.84 167.20L718.84 175.80Z" fill="#28a862"/>
<path d="M767.25 151.20L777.25 151.20L772.25 159.80Z" fill="#28a862"/>
<path d="M820.66 141.60L830.66 141.60L825.66 150.20Z" fill="#28a862"/>
<path d="M874.08 126.40L884.08 126.40L879.08 135.00Z" fill="#28a862"/>
<path d="M927.49 115.40L937.49 115.40L932.49 124.00Z" fill="#28a862"/>
<path d="M-139.77 378.30L-134.77 383.30L-139.77 388.30L-144.77 383.30Z" fill="#b46ee8"/>
<path d="M-86.36 360.70L-81.36 365.70L-86.36 370.70L-91.36 365.70Z" fill="#b46ee8"/>
<path d="M-32.95 346.70L-27.95 351.70L-32.95 356.70L-37.95 351.70Z" fill="#b46ee8"/>
<path d="M20.46 329.90L25.46 334.90L20.46 339.90L15.46 334.90Z" fill="#b46ee8"/>
<path d="M73.88 317.10L78.88 322.10L73.88 327.10L68.88 322.10Z" fill="#b46ee8"/>
<path d="M127.29 305.70L132.29 310.70L127.29 315.70L122.29 310.70Z" fill="#b46ee8"/>
<path d="M180.70 293.70L185.70 298.70L180.70 303.70L175.70 298.70Z" fill="#b46ee8"/>
<path d="M234.12 281.10L239.12 286.10L234.12 291.10L229.12 286.10Z" fill="#b46ee8"/>
<path d="M287.53 267.10L292.53 272.10L287.53 277.10L282.53 272.10Z" fill="#b46ee8"/>
<path d="M340.94 251.00L345.94 256.00L340.94 261.00L335.94 256.00Z" fill="#b46ee8"/>
<path d="M394.36 234.10L399.36 239.10L394.36 244.10L389.36 239.10Z" fill="#b46ee8"/>
<path d="M447.77 217.40L452.77 222.40L447.77 227.40L442.77 222.40Z" fill="#b46ee8"/>
<path d="M501.18 200.95L506.18 205.95L501.18 210.95L496.18 205.95Z" fill="#b46ee8"/>
<path d="M554.60 185.30L559.60 190.30L554.60 195.30L549.60 190.30Z" fill="#b46ee8"/>
<path d="M608.01 169.90L613.01 174.90L608.01 179.90L603.01 174.90Z" fill="#b46ee8"/>
<path d="M661.42 159.00L666.42 164.00L661.42 169.00L656.42 164.00Z" fill="#b46ee8"/>
<path d="M714.84 149.10L719.84 154.10L714.84 159.10L709.84 154.10Z" fill="#b46ee8"/>
<path d="M768.25 139.30L773.25 144.30L768.25 149.30L763.25 144.30Z" fill="#b46ee8"/>
<path d="M821.66 129.90L826.66 134.90L821.66 139.90L816.66 134.90Z" fill="#b46ee8"/>
<path d="M875.08 118.70L880.08 123.70L875.08 128.70L870.08 123.70Z" fill="#b46ee8"/>
<path d="M928.49 109.10L933.49 114.10L928.49 119.10L923.49 114.10Z" fill="#b46ee8"/>
<path d="M-144.87 375.70L-136.27 370.70L-136.27 380.70Z" fill="#d4a012"/>
<path d="M-91.46 355.50L-82.86 350.50L-82.86 360.50Z" fill="#d4a012"/>
<path d="M-38.05 342.70L-29.45 337.70L-29.45 347.70Z" fill="#d4a012"/>
<path d="M15.37 320.70L23.97 315.70L23.97 325.70Z" fill="#d4a012"/>
<path d="M68.78 307.90L77.38 302.90L77.38 312.90Z" fill="#d4a012"/>
<path d="M122.19 294.70L130.79 289.70L130.79 299.70Z" fill="#d4a012"/>
<path d="M175.60 280.10L184.20 275.10L184.20 285.10Z" fill="#d4a012"/>
<path d="M229.02 265.90L237.62 260.90L237.62 270.90Z" fill="#d4a012"/>
<path d="M282.43 247.70L291.03 242.70L291.03 252.70Z" fill="#d4a012"/>
<path d="M335.84 229.90L344.44 224.90L344.44 234.90Z" fill="#d4a012"/>
<path d="M389.26 212.53L397.86 207.53L397.86 217.53Z" fill="#d4a012"/>
<path d="M442.67 195.40L451.27 190.40L451.27 200.40Z" fill="#d4a012"/>
<path d="M496.08 178.50L504.68 173.50L504.68 183.50Z" fill="#d4a012"/>
<path d="M549.50 162.20L558.10 157.20L558.10 167.20Z" fill="#d4a012"/>
<path d="M602.91 150.60L611.51 145.60L611.51 155.60Z" fill="#d4a012"/>
<path d="M656.32 139.70L664.92 134.70L664.92 144.70Z" fill="#d4a012"/>
<path d="M709.74 129.80L718.34 124.80L718.34 134.80Z" fill="#d4a012"/>
<path d="M763.15 118.70L771.75 113.70L771.75 123.70Z" fill="#d4a012"/>
<path d="M816.56 107.70L825.16 102.70L825.16 112.70Z" fill="#d4a012"/>
<path d="M869.98 98.30L878.58 93.30L878.58 103.30Z" fill="#d4a012"/>
<path d="M923.39 86.50L931.99 81.50L931.99 91.50Z" fill="#d4a012"/>
</g>
<rect x="415.2" y="20.7" width="304.7" height="244.5" fill="none" stroke="#000" stroke-width="1.5"/>
<path d="M415.20 265.2v-4 M491.45 265.2v-2.2 M567.70 265.2v-4 M643.95 265.2v-2.2 M720.20 265.2v-4 M415.2 265.00h4 M415.2 240.55h2.2 M415.2 216.10h4 M415.2 191.65h2.2 M415.2 167.20h4 M415.2 142.75h2.2 M415.2 118.30h4 M415.2 93.85h2.2 M415.2 69.40h4 M415.2 44.95h2.2 M415.2 20.50h4" stroke="#000" stroke-width="1.4" fill="none"/>
<text x="415.20" y="282.8" font-size="14" font-weight="bold" text-anchor="middle">0.8</text>
<text x="567.70" y="282.8" font-size="14" font-weight="bold" text-anchor="middle">1.0</text>
<text x="720.20" y="282.8" font-size="14" font-weight="bold" text-anchor="middle">1.2</text>
<text x="410" y="269.60" font-size="14" font-weight="bold" text-anchor="end">0.6</text>
<text x="410" y="220.70" font-size="14" font-weight="bold" text-anchor="end">0.8</text>
<text x="410" y="171.80" font-size="14" font-weight="bold" text-anchor="end">1.0</text>
<text x="410" y="122.90" font-size="14" font-weight="bold" text-anchor="end">1.2</text>
<text x="410" y="74.00" font-size="14" font-weight="bold" text-anchor="end">1.4</text>
<text x="410" y="25.10" font-size="14" font-weight="bold" text-anchor="end">1.6</text>
<text x="570" y="298.7" font-size="16" font-weight="bold" text-anchor="middle">strain</text>
<text transform="translate(386,138.5) rotate(-90)" x="0" y="0" font-size="16" font-weight="bold" text-anchor="middle">stress (MPa)</text>
<text x="593.6" y="40" font-size="16" font-weight="bold">C00 rubber</text>
<text x="593.6" y="59.8" font-size="16.2" font-weight="bold">closed-up view</text>
<text x="657.7" y="246.6" font-size="16" font-weight="bold">d(2)</text>
<text x="419.90" y="36.7" font-size="15">model data</text>
<text x="516.10" y="36.7" font-size="15">test data</text>
<path d="M419.30 49.40H453.50" stroke="#3c3c3c" stroke-width="1.5" fill="none"/>
<text x="457.20" y="55.00" font-size="15">293K</text>
<rect x="515.40" y="46.20" width="6.80" height="6.80" fill="#4a4a4a"/>
<text x="540.10" y="55.00" font-size="15">293K</text>
<path d="M419.30 68.06H453.50" stroke="#f23a3a" stroke-width="1.5" fill="none" stroke-dasharray="6 5.5"/>
<text x="457.20" y="73.66" font-size="15">313K</text>
<circle cx="518.80" cy="68.26" r="4.10" fill="#f23a3a"/>
<text x="540.10" y="73.66" font-size="15">313K</text>
<path d="M419.30 86.72H453.50" stroke="#1e66e6" stroke-width="1.5" fill="none" stroke-dasharray="2 5"/>
<text x="457.20" y="92.32" font-size="15">333K</text>
<path d="M518.80 82.62L523.80 91.22L513.80 91.22Z" fill="#1e66e6"/>
<text x="540.10" y="92.32" font-size="15">333K</text>
<path d="M419.30 105.38H453.50" stroke="#28a862" stroke-width="1.5" fill="none" stroke-dasharray="7 2.5 1.5 2.5"/>
<text x="457.20" y="110.98" font-size="15">353K</text>
<path d="M513.80 101.28L523.80 101.28L518.80 109.88Z" fill="#28a862"/>
<text x="540.10" y="110.98" font-size="15">353K</text>
<path d="M419.30 124.04H453.50" stroke="#b46ee8" stroke-width="1.5" fill="none" stroke-dasharray="5 2.5 1.5 2.5 1.5 2.5"/>
<text x="457.20" y="129.64" font-size="15">363K</text>
<path d="M518.80 119.24L523.80 124.24L518.80 129.24L513.80 124.24Z" fill="#b46ee8"/>
<text x="540.10" y="129.64" font-size="15">363K</text>
<path d="M419.30 142.70H453.50" stroke="#d4a012" stroke-width="1.5" fill="none" stroke-dasharray="2.6 2.8"/>
<text x="457.20" y="148.30" font-size="15">383K</text>
<path d="M514.50 142.90L523.10 137.90L523.10 147.90Z" fill="#d4a012"/>
<text x="540.10" y="148.30" font-size="15">383K</text>
</svg></body></html>
